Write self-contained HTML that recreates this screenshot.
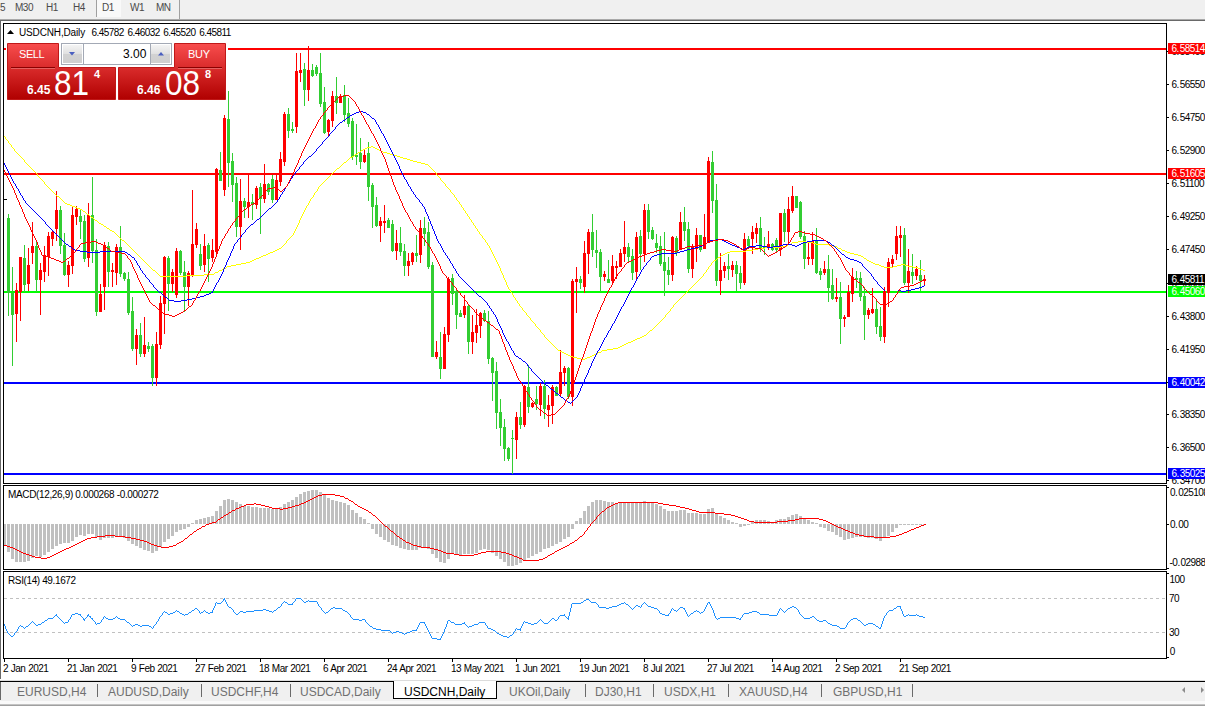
<!DOCTYPE html>
<html><head><meta charset="utf-8"><title>USDCNH,Daily</title>
<style>
html,body{margin:0;padding:0}
body{width:1205px;height:706px;overflow:hidden;background:#fff;position:relative;font-family:"Liberation Sans",sans-serif}
#tbar{position:absolute;left:0;top:0;width:1205px;height:19px;background:#f0f0f0}
#tbar span{position:absolute;top:0;font-size:10px;line-height:15px;color:#4a4a4a;white-space:nowrap;letter-spacing:-0.5px}
.tl1{position:absolute;left:0;top:19px;width:1205px;height:1px;background:#a9a9a9}
.tl2{position:absolute;left:0;top:20px;width:1205px;height:1px;background:#696969}
.lft{position:absolute;left:0;top:20px;width:1px;height:659px;background:#696969}
.vs{position:absolute;top:0;width:1px;background:#a0a0a0}
#d1{position:absolute;left:97px;top:0;width:24px;height:17px;background:#f9f9f9}
svg.ch{position:absolute;left:0;top:0}
.ax i,.bx i{font-style:normal;letter-spacing:0.4px}
.ax{position:absolute;font-size:10px;line-height:13px;height:13px;white-space:nowrap;letter-spacing:-0.55px}
.bx{position:absolute;left:1168px;width:37px;height:11px;font-size:10px;line-height:11px;white-space:nowrap;overflow:hidden;text-indent:3.5px;letter-spacing:-0.55px}
#tabs{position:absolute;left:0;top:680px;width:1205px;height:26px;background:#f0f0f0}
#tabs .l0{position:absolute;left:0;top:0;width:1205px;height:1px;background:#dcdcdc}
#tabs .lb{position:absolute;left:0;top:2px;width:1px;height:18px;background:#696969}
#tabs .l1{position:absolute;left:0;top:1px;width:1205px;height:1px;background:#000}
#tabs .w{position:absolute;left:0;top:21px;width:1205px;height:3px;background:#fafafa}
#tabs .g{position:absolute;left:0;top:24px;width:1205px;height:2px;background:linear-gradient(#c4c4c4 0,#c4c4c4 50%,#a0a0a0 50%,#a0a0a0 100%)}
.tb{position:absolute;top:4px;font-size:12px;line-height:16px;color:#707070;white-space:nowrap}
.sp{position:absolute;top:4px;width:1px;height:13px;background:#6a6a6a}
#act{position:absolute;left:393px;top:1px;width:102px;height:17px;background:#fff;border:1px solid #000;border-top:none;font-size:12px;line-height:23px;color:#000;text-indent:10px;white-space:nowrap}
.arr{position:absolute;top:6.5px;width:0;height:0;border-top:3.5px solid transparent;border-bottom:3.5px solid transparent}
#tp{position:absolute;left:0;top:0}
.t{position:absolute;color:#fff;white-space:nowrap}
</style></head><body>
<div id="tbar"><div id="d1"></div>
<span style="left:0px">5</span><span style="left:15px">M30</span><span style="left:46px">H1</span><span style="left:73px">H4</span><span style="left:102px">D1</span><span style="left:130px">W1</span><span style="left:156px">MN</span>
<div class="vs" style="left:96px;height:17px"></div><div class="vs" style="left:179px;height:19px"></div>
</div>
<div class="tl1"></div><div class="tl2"></div><div class="lft"></div>
<svg class="ch" width="1205" height="706" viewBox="0 0 1205 706" shape-rendering="crispEdges">
<rect x="4" y="48" width="1162" height="2" fill="#ff0000"/>
<rect x="4" y="173" width="1162" height="2" fill="#ff0000"/>
<rect x="4" y="291" width="1162" height="2" fill="#00ff00"/>
<rect x="4" y="382" width="1162" height="2" fill="#0000ff"/>
<rect x="4" y="473" width="1162" height="2" fill="#0000ff"/>
<path fill="#ff0000" d="M16 283h1v59h-1zM15 290h3v24h-3zM20 257h1v64h-1zM19 257h3v35h-3zM28 248h1v43h-1zM27 265h3v19h-3zM32 222h1v42h-1zM31 246h3v7h-3zM40 263h1v52h-1zM39 270h3v10h-3zM44 246h1v36h-1zM43 255h3v17h-3zM48 232h1v44h-1zM47 236h3v21h-3zM52 230h1v16h-1zM51 232h3v7h-3zM56 191h1v50h-1zM55 210h3v19h-3zM68 261h1v26h-1zM67 265h3v10h-3zM72 207h1v67h-1zM71 215h3v51h-3zM76 206h1v19h-1zM75 209h3v8h-3zM88 203h1v64h-1zM87 215h3v43h-3zM100 284h1v28h-1zM99 294h3v18h-3zM104 242h1v68h-1zM103 245h3v42h-3zM112 263h1v24h-1zM111 270h3v2h-3zM116 244h1v41h-1zM115 247h3v26h-3zM136 329h1v36h-1zM135 335h3v14h-3zM144 317h1v40h-1zM143 345h3v9h-3zM156 332h1v54h-1zM155 344h3v34h-3zM160 296h1v53h-1zM159 303h3v42h-3zM164 256h1v78h-1zM163 257h3v47h-3zM172 269h1v23h-1zM171 272h3v12h-3zM176 248h1v50h-1zM175 251h3v44h-3zM188 271h1v35h-1zM187 273h3v14h-3zM192 190h1v87h-1zM191 244h3v32h-3zM196 223h1v25h-1zM195 229h3v16h-3zM204 234h1v38h-1zM203 246h3v19h-3zM212 239h1v23h-1zM211 250h3v8h-3zM216 168h1v88h-1zM215 169h3v83h-3zM224 115h1v81h-1zM223 118h3v72h-3zM240 179h1v71h-1zM239 201h3v26h-3zM248 174h1v44h-1zM247 202h3v5h-3zM256 186h1v23h-1zM255 188h3v17h-3zM264 164h1v39h-1zM263 184h3v15h-3zM276 175h1v25h-1zM275 180h3v20h-3zM280 152h1v34h-1zM279 159h3v23h-3zM284 112h1v54h-1zM283 114h3v48h-3zM296 53h1v80h-1zM295 71h3v56h-3zM300 53h1v29h-1zM299 70h3v3h-3zM308 46h1v55h-1zM307 70h3v20h-3zM328 119h1v18h-1zM327 120h3v12h-3zM332 91h1v36h-1zM331 96h3v25h-3zM340 94h1v9h-1zM339 97h3v6h-3zM364 150h1v13h-1zM363 155h3v7h-3zM380 217h1v25h-1zM379 221h3v5h-3zM384 205h1v28h-1zM383 221h3v2h-3zM396 230h1v30h-1zM395 243h3v8h-3zM408 253h1v23h-1zM407 261h3v5h-3zM412 252h1v13h-1zM411 253h3v9h-3zM420 220h1v43h-1zM419 228h3v27h-3zM436 341h1v18h-1zM435 352h3v5h-3zM444 327h1v42h-1zM443 334h3v35h-3zM448 277h1v65h-1zM447 279h3v56h-3zM464 295h1v23h-1zM463 306h3v9h-3zM472 315h1v39h-1zM471 332h3v10h-3zM476 309h1v34h-1zM475 325h3v8h-3zM480 312h1v26h-1zM479 313h3v13h-3zM516 412h1v47h-1zM515 417h3v23h-3zM524 385h1v42h-1zM523 386h3v39h-3zM532 402h1v6h-1zM531 403h3v4h-3zM540 383h1v33h-1zM539 386h3v19h-3zM548 395h1v32h-1zM547 405h3v5h-3zM552 385h1v39h-1zM551 387h3v19h-3zM560 350h1v46h-1zM559 372h3v22h-3zM564 366h1v20h-1zM563 368h3v5h-3zM572 279h1v127h-1zM571 281h3v116h-3zM576 267h1v46h-1zM575 279h3v3h-3zM584 241h1v52h-1zM583 253h3v34h-3zM588 229h1v45h-1zM587 232h3v22h-3zM604 271h1v10h-1zM603 274h3v3h-3zM612 255h1v30h-1zM611 266h3v15h-3zM616 261h1v18h-1zM615 266h3v2h-3zM620 249h1v18h-1zM619 253h3v14h-3zM624 221h1v41h-1zM623 247h3v7h-3zM636 232h1v49h-1zM635 237h3v35h-3zM644 204h1v58h-1zM643 210h3v44h-3zM672 236h1v45h-1zM671 237h3v38h-3zM680 212h1v38h-1zM679 222h3v27h-3zM692 244h1v34h-1zM691 247h3v22h-3zM696 228h1v34h-1zM695 235h3v14h-3zM704 214h1v35h-1zM703 237h3v12h-3zM708 157h1v86h-1zM707 161h3v82h-3zM720 253h1v42h-1zM719 270h3v11h-3zM724 262h1v16h-1zM723 266h3v5h-3zM732 261h1v16h-1zM731 265h3v5h-3zM744 233h1v52h-1zM743 239h3v44h-3zM752 226h1v28h-1zM751 232h3v7h-3zM756 223h1v20h-1zM755 228h3v6h-3zM768 231h1v19h-1zM767 244h3v4h-3zM780 213h1v43h-1zM779 213h3v37h-3zM788 197h1v48h-1zM787 209h3v23h-3zM792 186h1v27h-1zM791 196h3v15h-3zM808 241h1v24h-1zM807 257h3v2h-3zM812 232h1v33h-1zM811 241h3v18h-3zM824 261h1v14h-1zM823 269h3v4h-3zM836 278h1v24h-1zM835 297h3v2h-3zM844 315h1v12h-1zM843 317h3v2h-3zM848 285h1v32h-1zM847 292h3v25h-3zM852 268h1v34h-1zM851 277h3v17h-3zM868 308h1v11h-1zM867 310h3v5h-3zM872 288h1v26h-1zM871 309h3v4h-3zM884 287h1v56h-1zM883 291h3v46h-3zM888 258h1v49h-1zM887 262h3v31h-3zM892 255h1v12h-1zM891 259h3v5h-3zM896 226h1v34h-1zM895 236h3v18h-3zM900 226h1v31h-1zM899 235h3v3h-3zM908 249h1v44h-1zM907 271h3v12h-3zM916 266h1v14h-1zM915 269h3v7h-3zM924 275h1v11h-1zM923 279h3v2h-3z"/>
<path fill="#32cd32" d="M8 214h1v102h-1zM7 218h3v75h-3zM12 267h1v99h-1zM11 293h3v22h-3zM24 245h1v47h-1zM23 258h3v27h-3zM36 241h1v51h-1zM35 246h3v34h-3zM60 206h1v48h-1zM59 210h3v36h-3zM64 233h1v43h-1zM63 245h3v30h-3zM80 210h1v29h-1zM79 216h3v6h-3zM84 215h1v47h-1zM83 221h3v38h-3zM92 177h1v86h-1zM91 215h3v36h-3zM96 239h1v77h-1zM95 250h3v62h-3zM108 242h1v45h-1zM107 246h3v26h-3zM120 226h1v51h-1zM119 247h3v27h-3zM124 272h1v9h-1zM123 273h3v6h-3zM128 272h1v43h-1zM127 279h3v34h-3zM132 297h1v54h-1zM131 311h3v38h-3zM140 323h1v34h-1zM139 335h3v19h-3zM148 342h1v10h-1zM147 346h3v3h-3zM152 344h1v42h-1zM151 346h3v32h-3zM168 256h1v55h-1zM167 258h3v26h-3zM180 250h1v25h-1zM179 251h3v22h-3zM184 261h1v51h-1zM183 272h3v15h-3zM200 244h1v26h-1zM199 254h3v12h-3zM208 243h1v39h-1zM207 245h3v14h-3zM220 152h1v29h-1zM219 170h3v11h-3zM228 91h1v96h-1zM227 119h3v44h-3zM232 153h1v49h-1zM231 161h3v24h-3zM236 177h1v60h-1zM235 183h3v44h-3zM244 198h1v20h-1zM243 201h3v6h-3zM252 194h1v26h-1zM251 202h3v3h-3zM260 183h1v51h-1zM259 187h3v12h-3zM268 183h1v12h-1zM267 184h3v8h-3zM272 175h1v28h-1zM271 179h3v21h-3zM288 108h1v30h-1zM287 114h3v17h-3zM292 122h1v11h-1zM291 129h3v2h-3zM304 63h1v43h-1zM303 69h3v21h-3zM312 64h1v13h-1zM311 70h3v6h-3zM316 65h1v11h-1zM315 67h3v7h-3zM320 53h1v54h-1zM319 73h3v31h-3zM324 87h1v47h-1zM323 102h3v31h-3zM336 77h1v37h-1zM335 96h3v7h-3zM344 85h1v37h-1zM343 95h3v20h-3zM348 98h1v29h-1zM347 113h3v11h-3zM352 118h1v42h-1zM351 121h3v36h-3zM356 124h1v41h-1zM355 155h3v2h-3zM360 138h1v31h-1zM359 153h3v9h-3zM368 142h1v59h-1zM367 153h3v34h-3zM372 183h1v45h-1zM371 185h3v22h-3zM376 197h1v30h-1zM375 205h3v21h-3zM388 218h1v10h-1zM387 220h3v8h-3zM392 220h1v32h-1zM391 224h3v27h-3zM400 227h1v29h-1zM399 243h3v9h-3zM404 244h1v32h-1zM403 251h3v15h-3zM416 235h1v27h-1zM415 253h3v3h-3zM424 217h1v29h-1zM423 228h3v6h-3zM428 222h1v47h-1zM427 232h3v35h-3zM432 262h1v95h-1zM431 265h3v92h-3zM440 332h1v47h-1zM439 357h3v12h-3zM452 274h1v31h-1zM451 278h3v16h-3zM456 289h1v40h-1zM455 291h3v24h-3zM460 310h1v7h-1zM459 313h3v4h-3zM468 305h1v49h-1zM467 306h3v36h-3zM484 310h1v12h-1zM483 313h3v8h-3zM488 311h1v53h-1zM487 321h3v38h-3zM492 357h1v44h-1zM491 358h3v15h-3zM496 362h1v67h-1zM495 371h3v42h-3zM500 399h1v47h-1zM499 412h3v16h-3zM504 419h1v42h-1zM503 427h3v22h-3zM508 447h1v14h-1zM507 448h3v11h-3zM512 430h1v44h-1zM511 438h3v1h-3zM520 402h1v27h-1zM519 417h3v8h-3zM528 365h1v48h-1zM527 387h3v20h-3zM536 386h1v24h-1zM535 399h3v5h-3zM544 380h1v39h-1zM543 386h3v23h-3zM556 386h1v10h-1zM555 387h3v9h-3zM568 367h1v32h-1zM567 368h3v29h-3zM580 276h1v13h-1zM579 279h3v4h-3zM592 214h1v43h-1zM591 232h3v18h-3zM596 230h1v38h-1zM595 250h3v3h-3zM600 249h1v43h-1zM599 252h3v25h-3zM608 260h1v23h-1zM607 279h3v4h-3zM628 243h1v19h-1zM627 247h3v10h-3zM632 249h1v31h-1zM631 256h3v17h-3zM640 230h1v40h-1zM639 236h3v18h-3zM648 204h1v35h-1zM647 210h3v22h-3zM652 227h1v13h-1zM651 230h3v9h-3zM656 234h1v19h-1zM655 243h3v5h-3zM660 236h1v30h-1zM659 246h3v18h-3zM664 232h1v64h-1zM663 262h3v9h-3zM668 257h1v28h-1zM667 270h3v5h-3zM676 236h1v20h-1zM675 238h3v15h-3zM684 207h1v34h-1zM683 222h3v9h-3zM688 222h1v51h-1zM687 229h3v40h-3zM700 235h1v17h-1zM699 235h3v15h-3zM712 151h1v62h-1zM711 162h3v39h-3zM716 184h1v102h-1zM715 200h3v81h-3zM728 254h1v26h-1zM727 266h3v3h-3zM736 261h1v30h-1zM735 265h3v9h-3zM740 266h1v23h-1zM739 273h3v10h-3zM748 236h1v13h-1zM747 239h3v7h-3zM760 217h1v35h-1zM759 228h3v20h-3zM764 237h1v18h-1zM763 246h3v2h-3zM772 243h1v8h-1zM771 244h3v6h-3zM776 238h1v15h-1zM775 240h3v10h-3zM784 209h1v33h-1zM783 213h3v19h-3zM796 196h1v12h-1zM795 196h3v12h-3zM800 201h1v38h-1zM799 202h3v35h-3zM804 231h1v38h-1zM803 236h3v23h-3zM816 228h1v46h-1zM815 241h3v32h-3zM820 268h1v12h-1zM819 271h3v4h-3zM828 255h1v47h-1zM827 269h3v19h-3zM832 269h1v31h-1zM831 285h3v14h-3zM840 282h1v62h-1zM839 297h3v22h-3zM856 271h1v17h-1zM855 278h3v2h-3zM860 272h1v29h-1zM859 278h3v19h-3zM864 287h1v53h-1zM863 296h3v19h-3zM876 301h1v33h-1zM875 309h3v18h-3zM880 307h1v34h-1zM879 326h3v11h-3zM904 228h1v57h-1zM903 235h3v48h-3zM912 254h1v30h-1zM911 272h3v4h-3zM920 260h1v31h-1zM919 275h3v6h-3z"/>
<path fill="#ffff00" d="M4 136h1v1h-1zM5 137h1v2h-1zM6 139h1v1h-1zM7 140h1v1h-1zM8 141h1v2h-1zM9 143h1v1h-1zM10 144h1v1h-1zM11 145h1v2h-1zM12 147h1v1h-1zM13 148h1v1h-1zM14 149h1v2h-1zM15 151h1v1h-1zM16 152h1v1h-1zM17 153h1v1h-1zM18 154h1v1h-1zM19 155h1v1h-1zM20 156h1v1h-1zM21 157h1v1h-1zM22 158h1v1h-1zM23 159h1v1h-1zM24 160h1v2h-1zM25 162h1v1h-1zM26 163h1v1h-1zM27 164h1v1h-1zM28 165h1v1h-1zM29 166h1v1h-1zM30 167h1v1h-1zM31 168h1v1h-1zM32 169h1v1h-1zM33 170h1v1h-1zM34 171h1v1h-1zM35 172h1v1h-1zM36 173h1v1h-1zM37 174h1v2h-1zM38 176h1v1h-1zM39 177h1v1h-1zM40 178h1v1h-1zM41 179h1v1h-1zM42 180h1v1h-1zM43 181h1v1h-1zM44 182h1v2h-1zM45 184h1v1h-1zM46 185h1v1h-1zM47 186h1v1h-1zM48 187h1v1h-1zM49 188h1v1h-1zM50 189h1v1h-1zM51 190h1v1h-1zM52 191h1v1h-1zM53 192h1v1h-1zM54 193h1v1h-1zM55 194h1v1h-1zM56 195h1v1h-1zM57 196h1v1h-1zM58 196h1v1h-1zM59 197h1v1h-1zM60 198h1v1h-1zM61 199h1v1h-1zM62 200h1v1h-1zM63 201h1v1h-1zM64 202h1v1h-1zM65 203h1v1h-1zM66 203h1v1h-1zM67 204h1v1h-1zM68 204h1v1h-1zM69 204h1v1h-1zM70 205h1v1h-1zM71 205h1v1h-1zM72 206h1v1h-1zM73 206h1v1h-1zM74 206h1v1h-1zM75 207h1v1h-1zM76 207h1v1h-1zM77 208h1v1h-1zM78 208h1v1h-1zM79 208h1v1h-1zM80 209h1v1h-1zM81 209h1v1h-1zM82 210h1v1h-1zM83 211h1v1h-1zM84 211h1v1h-1zM85 212h1v1h-1zM86 213h1v1h-1zM87 214h1v1h-1zM88 214h1v1h-1zM89 215h1v1h-1zM90 216h1v1h-1zM91 217h1v1h-1zM92 217h1v1h-1zM93 218h1v1h-1zM94 219h1v1h-1zM95 220h1v1h-1zM96 220h1v1h-1zM97 221h1v1h-1zM98 222h1v1h-1zM99 223h1v1h-1zM100 223h1v1h-1zM101 224h1v1h-1zM102 224h1v1h-1zM103 225h1v1h-1zM104 226h1v1h-1zM105 226h1v1h-1zM106 227h1v1h-1zM107 228h1v1h-1zM108 228h1v1h-1zM109 229h1v1h-1zM110 230h1v1h-1zM111 230h1v1h-1zM112 231h1v1h-1zM113 231h1v1h-1zM114 232h1v1h-1zM115 233h1v1h-1zM116 234h1v1h-1zM117 235h1v1h-1zM118 236h1v1h-1zM119 237h1v1h-1zM120 238h1v1h-1zM121 239h1v1h-1zM122 240h1v1h-1zM123 240h1v1h-1zM124 241h1v1h-1zM125 242h1v1h-1zM126 243h1v1h-1zM127 244h1v1h-1zM128 245h1v1h-1zM129 246h1v1h-1zM130 247h1v1h-1zM131 248h1v1h-1zM132 249h1v1h-1zM133 250h1v1h-1zM134 251h1v1h-1zM135 252h1v1h-1zM136 253h1v1h-1zM137 254h1v1h-1zM138 255h1v1h-1zM139 256h1v1h-1zM140 257h1v1h-1zM141 258h1v1h-1zM142 259h1v1h-1zM143 260h1v1h-1zM144 261h1v1h-1zM145 262h1v1h-1zM146 263h1v1h-1zM147 264h1v1h-1zM148 265h1v1h-1zM149 266h1v1h-1zM150 267h1v1h-1zM151 268h1v1h-1zM152 269h1v1h-1zM153 270h1v1h-1zM154 270h1v1h-1zM155 271h1v1h-1zM156 272h1v1h-1zM157 273h1v1h-1zM158 274h1v1h-1zM159 275h1v1h-1zM160 276h1v1h-1zM161 276h1v1h-1zM162 276h1v1h-1zM163 276h1v1h-1zM164 276h1v1h-1zM165 276h1v1h-1zM166 276h1v1h-1zM167 276h1v1h-1zM168 276h1v1h-1zM169 276h1v1h-1zM170 276h1v1h-1zM171 276h1v1h-1zM172 276h1v1h-1zM173 276h1v1h-1zM174 276h1v1h-1zM175 276h1v1h-1zM176 276h1v1h-1zM177 276h1v1h-1zM178 276h1v1h-1zM179 276h1v1h-1zM180 276h1v1h-1zM181 276h1v1h-1zM182 276h1v1h-1zM183 276h1v1h-1zM184 276h1v1h-1zM185 276h1v1h-1zM186 275h1v1h-1zM187 275h1v1h-1zM188 275h1v1h-1zM189 275h1v1h-1zM190 275h1v1h-1zM191 275h1v1h-1zM192 275h1v1h-1zM193 275h1v1h-1zM194 275h1v1h-1zM195 275h1v1h-1zM196 275h1v1h-1zM197 275h1v1h-1zM198 275h1v1h-1zM199 275h1v1h-1zM200 275h1v1h-1zM201 275h1v1h-1zM202 275h1v1h-1zM203 275h1v1h-1zM204 274h1v1h-1zM205 274h1v1h-1zM206 274h1v1h-1zM207 274h1v1h-1zM208 274h1v1h-1zM209 274h1v1h-1zM210 274h1v1h-1zM211 274h1v1h-1zM212 274h1v1h-1zM213 274h1v1h-1zM214 273h1v1h-1zM215 272h1v1h-1zM216 272h1v1h-1zM217 272h1v1h-1zM218 271h1v1h-1zM219 270h1v1h-1zM220 270h1v1h-1zM221 270h1v1h-1zM222 269h1v1h-1zM223 268h1v1h-1zM224 268h1v1h-1zM225 268h1v1h-1zM226 267h1v1h-1zM227 266h1v1h-1zM228 266h1v1h-1zM229 266h1v1h-1zM230 266h1v1h-1zM231 265h1v1h-1zM232 265h1v1h-1zM233 265h1v1h-1zM234 265h1v1h-1zM235 265h1v1h-1zM236 264h1v1h-1zM237 264h1v1h-1zM238 264h1v1h-1zM239 264h1v1h-1zM240 264h1v1h-1zM241 263h1v1h-1zM242 263h1v1h-1zM243 263h1v1h-1zM244 263h1v1h-1zM245 263h1v1h-1zM246 262h1v1h-1zM247 262h1v1h-1zM248 262h1v1h-1zM249 262h1v1h-1zM250 261h1v1h-1zM251 261h1v1h-1zM252 260h1v1h-1zM253 260h1v1h-1zM254 259h1v1h-1zM255 259h1v1h-1zM256 258h1v1h-1zM257 258h1v1h-1zM258 258h1v1h-1zM259 257h1v1h-1zM260 257h1v1h-1zM261 256h1v1h-1zM262 256h1v1h-1zM263 255h1v1h-1zM264 255h1v1h-1zM265 255h1v1h-1zM266 254h1v1h-1zM267 254h1v1h-1zM268 253h1v1h-1zM269 253h1v1h-1zM270 252h1v1h-1zM271 252h1v1h-1zM272 252h1v1h-1zM273 251h1v1h-1zM274 251h1v1h-1zM275 250h1v1h-1zM276 250h1v1h-1zM277 249h1v1h-1zM278 249h1v1h-1zM279 248h1v1h-1zM280 248h1v1h-1zM281 247h1v1h-1zM282 246h1v1h-1zM283 245h1v1h-1zM284 244h1v1h-1zM285 243h1v1h-1zM286 241h1v2h-1zM287 240h1v1h-1zM288 239h1v1h-1zM289 238h1v1h-1zM290 237h1v1h-1zM291 236h1v1h-1zM292 235h1v1h-1zM293 233h1v2h-1zM294 231h1v2h-1zM295 229h1v2h-1zM296 227h1v2h-1zM297 225h1v2h-1zM298 223h1v2h-1zM299 220h1v3h-1zM300 218h1v2h-1zM301 216h1v2h-1zM302 214h1v2h-1zM303 212h1v2h-1zM304 210h1v2h-1zM305 208h1v2h-1zM306 206h1v2h-1zM307 205h1v1h-1zM308 203h1v2h-1zM309 201h1v2h-1zM310 199h1v2h-1zM311 198h1v1h-1zM312 197h1v1h-1zM313 195h1v2h-1zM314 193h1v2h-1zM315 192h1v1h-1zM316 191h1v1h-1zM317 189h1v2h-1zM318 187h1v2h-1zM319 186h1v1h-1zM320 185h1v1h-1zM321 184h1v1h-1zM322 183h1v1h-1zM323 182h1v1h-1zM324 181h1v1h-1zM325 180h1v1h-1zM326 179h1v1h-1zM327 178h1v1h-1zM328 177h1v1h-1zM329 176h1v1h-1zM330 175h1v1h-1zM331 174h1v1h-1zM332 173h1v1h-1zM333 172h1v1h-1zM334 171h1v1h-1zM335 170h1v1h-1zM336 169h1v1h-1zM337 168h1v1h-1zM338 168h1v1h-1zM339 167h1v1h-1zM340 166h1v1h-1zM341 165h1v1h-1zM342 164h1v1h-1zM343 163h1v1h-1zM344 162h1v1h-1zM345 162h1v1h-1zM346 161h1v1h-1zM347 160h1v1h-1zM348 159h1v1h-1zM349 158h1v1h-1zM350 157h1v1h-1zM351 157h1v1h-1zM352 156h1v1h-1zM353 156h1v1h-1zM354 155h1v1h-1zM355 154h1v1h-1zM356 154h1v1h-1zM357 153h1v1h-1zM358 152h1v1h-1zM359 152h1v1h-1zM360 151h1v1h-1zM361 150h1v1h-1zM362 150h1v1h-1zM363 149h1v1h-1zM364 149h1v1h-1zM365 148h1v1h-1zM366 148h1v1h-1zM367 147h1v1h-1zM368 147h1v1h-1zM369 147h1v1h-1zM370 147h1v1h-1zM371 146h1v1h-1zM372 146h1v1h-1zM373 147h1v1h-1zM374 147h1v1h-1zM375 148h1v1h-1zM376 148h1v1h-1zM377 149h1v1h-1zM378 149h1v1h-1zM379 150h1v1h-1zM380 150h1v1h-1zM381 151h1v1h-1zM382 151h1v1h-1zM383 152h1v1h-1zM384 152h1v1h-1zM385 152h1v1h-1zM386 152h1v1h-1zM387 153h1v1h-1zM388 153h1v1h-1zM389 153h1v1h-1zM390 154h1v1h-1zM391 154h1v1h-1zM392 154h1v1h-1zM393 155h1v1h-1zM394 155h1v1h-1zM395 155h1v1h-1zM396 155h1v1h-1zM397 156h1v1h-1zM398 156h1v1h-1zM399 156h1v1h-1zM400 157h1v1h-1zM401 157h1v1h-1zM402 157h1v1h-1zM403 158h1v1h-1zM404 158h1v1h-1zM405 158h1v1h-1zM406 158h1v1h-1zM407 159h1v1h-1zM408 159h1v1h-1zM409 159h1v1h-1zM410 160h1v1h-1zM411 160h1v1h-1zM412 160h1v1h-1zM413 161h1v1h-1zM414 161h1v1h-1zM415 161h1v1h-1zM416 161h1v1h-1zM417 162h1v1h-1zM418 162h1v1h-1zM419 162h1v1h-1zM420 162h1v1h-1zM421 163h1v1h-1zM422 163h1v1h-1zM423 163h1v1h-1zM424 163h1v1h-1zM425 164h1v1h-1zM426 164h1v1h-1zM427 164h1v1h-1zM428 165h1v1h-1zM429 166h1v1h-1zM430 167h1v1h-1zM431 168h1v1h-1zM432 169h1v1h-1zM433 170h1v1h-1zM434 171h1v1h-1zM435 172h1v1h-1zM436 173h1v2h-1zM437 175h1v1h-1zM438 176h1v1h-1zM439 177h1v1h-1zM440 178h1v2h-1zM441 180h1v1h-1zM442 181h1v1h-1zM443 182h1v1h-1zM444 183h1v1h-1zM445 184h1v2h-1zM446 186h1v1h-1zM447 187h1v1h-1zM448 188h1v1h-1zM449 189h1v1h-1zM450 190h1v2h-1zM451 192h1v1h-1zM452 193h1v1h-1zM453 194h1v1h-1zM454 195h1v2h-1zM455 197h1v1h-1zM456 198h1v2h-1zM457 200h1v1h-1zM458 201h1v1h-1zM459 202h1v2h-1zM460 204h1v1h-1zM461 205h1v2h-1zM462 207h1v1h-1zM463 208h1v2h-1zM464 210h1v1h-1zM465 211h1v2h-1zM466 213h1v1h-1zM467 214h1v2h-1zM468 216h1v1h-1zM469 217h1v2h-1zM470 219h1v1h-1zM471 220h1v2h-1zM472 222h1v1h-1zM473 223h1v2h-1zM474 225h1v1h-1zM475 226h1v2h-1zM476 228h1v1h-1zM477 229h1v2h-1zM478 231h1v1h-1zM479 232h1v2h-1zM480 234h1v1h-1zM481 235h1v1h-1zM482 236h1v2h-1zM483 238h1v1h-1zM484 239h1v1h-1zM485 240h1v2h-1zM486 242h1v1h-1zM487 243h1v2h-1zM488 245h1v1h-1zM489 246h1v2h-1zM490 248h1v2h-1zM491 250h1v2h-1zM492 252h1v2h-1zM493 254h1v2h-1zM494 256h1v2h-1zM495 258h1v2h-1zM496 260h1v2h-1zM497 262h1v2h-1zM498 264h1v2h-1zM499 266h1v2h-1zM500 268h1v3h-1zM501 271h1v2h-1zM502 273h1v2h-1zM503 275h1v3h-1zM504 278h1v2h-1zM505 280h1v2h-1zM506 282h1v3h-1zM507 285h1v2h-1zM508 287h1v2h-1zM509 289h1v1h-1zM510 290h1v2h-1zM511 292h1v1h-1zM512 293h1v2h-1zM513 295h1v2h-1zM514 297h1v1h-1zM515 298h1v2h-1zM516 300h1v1h-1zM517 301h1v2h-1zM518 303h1v1h-1zM519 304h1v2h-1zM520 306h1v1h-1zM521 307h1v1h-1zM522 308h1v2h-1zM523 310h1v1h-1zM524 311h1v1h-1zM525 312h1v1h-1zM526 313h1v2h-1zM527 315h1v1h-1zM528 316h1v1h-1zM529 317h1v1h-1zM530 318h1v2h-1zM531 320h1v1h-1zM532 321h1v1h-1zM533 322h1v1h-1zM534 323h1v1h-1zM535 324h1v2h-1zM536 326h1v1h-1zM537 327h1v1h-1zM538 328h1v1h-1zM539 329h1v1h-1zM540 330h1v2h-1zM541 332h1v1h-1zM542 333h1v1h-1zM543 334h1v1h-1zM544 335h1v2h-1zM545 337h1v1h-1zM546 338h1v1h-1zM547 339h1v1h-1zM548 340h1v1h-1zM549 341h1v1h-1zM550 342h1v1h-1zM551 343h1v1h-1zM552 344h1v1h-1zM553 345h1v1h-1zM554 346h1v1h-1zM555 347h1v1h-1zM556 348h1v1h-1zM557 349h1v1h-1zM558 350h1v1h-1zM559 350h1v1h-1zM560 351h1v1h-1zM561 351h1v1h-1zM562 352h1v1h-1zM563 352h1v1h-1zM564 353h1v1h-1zM565 353h1v1h-1zM566 354h1v1h-1zM567 354h1v1h-1zM568 355h1v1h-1zM569 355h1v1h-1zM570 356h1v1h-1zM571 356h1v1h-1zM572 356h1v1h-1zM573 357h1v1h-1zM574 357h1v1h-1zM575 357h1v1h-1zM576 357h1v1h-1zM577 358h1v1h-1zM578 358h1v1h-1zM579 358h1v1h-1zM580 358h1v1h-1zM581 359h1v1h-1zM582 359h1v1h-1zM583 359h1v1h-1zM584 359h1v1h-1zM585 358h1v1h-1zM586 358h1v1h-1zM587 357h1v1h-1zM588 357h1v1h-1zM589 357h1v1h-1zM590 356h1v1h-1zM591 356h1v1h-1zM592 355h1v1h-1zM593 355h1v1h-1zM594 354h1v1h-1zM595 354h1v1h-1zM596 354h1v1h-1zM597 353h1v1h-1zM598 352h1v1h-1zM599 352h1v1h-1zM600 352h1v1h-1zM601 351h1v1h-1zM602 350h1v1h-1zM603 350h1v1h-1zM604 350h1v1h-1zM605 350h1v1h-1zM606 350h1v1h-1zM607 349h1v1h-1zM608 349h1v1h-1zM609 349h1v1h-1zM610 349h1v1h-1zM611 349h1v1h-1zM612 349h1v1h-1zM613 348h1v1h-1zM614 348h1v1h-1zM615 348h1v1h-1zM616 348h1v1h-1zM617 348h1v1h-1zM618 347h1v1h-1zM619 347h1v1h-1zM620 346h1v1h-1zM621 346h1v1h-1zM622 345h1v1h-1zM623 345h1v1h-1zM624 344h1v1h-1zM625 344h1v1h-1zM626 343h1v1h-1zM627 343h1v1h-1zM628 342h1v1h-1zM629 342h1v1h-1zM630 342h1v1h-1zM631 341h1v1h-1zM632 341h1v1h-1zM633 340h1v1h-1zM634 340h1v1h-1zM635 339h1v1h-1zM636 339h1v1h-1zM637 338h1v1h-1zM638 338h1v1h-1zM639 338h1v1h-1zM640 337h1v1h-1zM641 337h1v1h-1zM642 336h1v1h-1zM643 336h1v1h-1zM644 335h1v1h-1zM645 335h1v1h-1zM646 334h1v1h-1zM647 333h1v1h-1zM648 332h1v1h-1zM649 331h1v1h-1zM650 330h1v1h-1zM651 330h1v1h-1zM652 329h1v1h-1zM653 328h1v1h-1zM654 327h1v1h-1zM655 326h1v1h-1zM656 325h1v1h-1zM657 324h1v1h-1zM658 323h1v1h-1zM659 322h1v1h-1zM660 321h1v1h-1zM661 320h1v1h-1zM662 319h1v1h-1zM663 318h1v1h-1zM664 317h1v1h-1zM665 315h1v2h-1zM666 314h1v1h-1zM667 313h1v1h-1zM668 312h1v1h-1zM669 311h1v1h-1zM670 309h1v2h-1zM671 308h1v1h-1zM672 307h1v1h-1zM673 305h1v2h-1zM674 304h1v1h-1zM675 303h1v1h-1zM676 302h1v1h-1zM677 301h1v1h-1zM678 300h1v1h-1zM679 299h1v1h-1zM680 298h1v1h-1zM681 297h1v1h-1zM682 296h1v1h-1zM683 295h1v1h-1zM684 294h1v1h-1zM685 293h1v1h-1zM686 292h1v1h-1zM687 291h1v1h-1zM688 290h1v1h-1zM689 289h1v1h-1zM690 288h1v1h-1zM691 287h1v1h-1zM692 286h1v1h-1zM693 285h1v1h-1zM694 284h1v1h-1zM695 283h1v1h-1zM696 282h1v1h-1zM697 281h1v1h-1zM698 280h1v1h-1zM699 279h1v1h-1zM700 278h1v1h-1zM701 277h1v1h-1zM702 276h1v1h-1zM703 274h1v2h-1zM704 273h1v1h-1zM705 272h1v1h-1zM706 270h1v2h-1zM707 269h1v1h-1zM708 267h1v2h-1zM709 266h1v1h-1zM710 265h1v1h-1zM711 263h1v2h-1zM712 262h1v1h-1zM713 261h1v1h-1zM714 260h1v1h-1zM715 260h1v1h-1zM716 259h1v1h-1zM717 258h1v1h-1zM718 257h1v1h-1zM719 257h1v1h-1zM720 256h1v1h-1zM721 255h1v1h-1zM722 255h1v1h-1zM723 254h1v1h-1zM724 254h1v1h-1zM725 253h1v1h-1zM726 253h1v1h-1zM727 252h1v1h-1zM728 252h1v1h-1zM729 252h1v1h-1zM730 251h1v1h-1zM731 251h1v1h-1zM732 251h1v1h-1zM733 251h1v1h-1zM734 251h1v1h-1zM735 251h1v1h-1zM736 251h1v1h-1zM737 251h1v1h-1zM738 251h1v1h-1zM739 251h1v1h-1zM740 251h1v1h-1zM741 251h1v1h-1zM742 251h1v1h-1zM743 251h1v1h-1zM744 251h1v1h-1zM745 251h1v1h-1zM746 250h1v1h-1zM747 250h1v1h-1zM748 250h1v1h-1zM749 250h1v1h-1zM750 250h1v1h-1zM751 250h1v1h-1zM752 250h1v1h-1zM753 249h1v1h-1zM754 249h1v1h-1zM755 249h1v1h-1zM756 249h1v1h-1zM757 249h1v1h-1zM758 248h1v1h-1zM759 248h1v1h-1zM760 248h1v1h-1zM761 248h1v1h-1zM762 248h1v1h-1zM763 248h1v1h-1zM764 248h1v1h-1zM765 247h1v1h-1zM766 247h1v1h-1zM767 247h1v1h-1zM768 247h1v1h-1zM769 247h1v1h-1zM770 247h1v1h-1zM771 247h1v1h-1zM772 247h1v1h-1zM773 247h1v1h-1zM774 247h1v1h-1zM775 247h1v1h-1zM776 247h1v1h-1zM777 247h1v1h-1zM778 247h1v1h-1zM779 247h1v1h-1zM780 247h1v1h-1zM781 246h1v1h-1zM782 246h1v1h-1zM783 246h1v1h-1zM784 246h1v1h-1zM785 246h1v1h-1zM786 246h1v1h-1zM787 245h1v1h-1zM788 244h1v1h-1zM789 244h1v1h-1zM790 244h1v1h-1zM791 243h1v1h-1zM792 242h1v1h-1zM793 242h1v1h-1zM794 242h1v1h-1zM795 242h1v1h-1zM796 242h1v1h-1zM797 242h1v1h-1zM798 241h1v1h-1zM799 241h1v1h-1zM800 241h1v1h-1zM801 241h1v1h-1zM802 241h1v1h-1zM803 241h1v1h-1zM804 241h1v1h-1zM805 241h1v1h-1zM806 242h1v1h-1zM807 242h1v1h-1zM808 242h1v1h-1zM809 242h1v1h-1zM810 242h1v1h-1zM811 242h1v1h-1zM812 242h1v1h-1zM813 243h1v1h-1zM814 243h1v1h-1zM815 243h1v1h-1zM816 244h1v1h-1zM817 244h1v1h-1zM818 244h1v1h-1zM819 244h1v1h-1zM820 244h1v1h-1zM821 244h1v1h-1zM822 244h1v1h-1zM823 244h1v1h-1zM824 244h1v1h-1zM825 244h1v1h-1zM826 244h1v1h-1zM827 244h1v1h-1zM828 244h1v1h-1zM829 245h1v1h-1zM830 245h1v1h-1zM831 245h1v1h-1zM832 245h1v1h-1zM833 246h1v1h-1zM834 246h1v1h-1zM835 246h1v1h-1zM836 246h1v1h-1zM837 247h1v1h-1zM838 248h1v1h-1zM839 248h1v1h-1zM840 248h1v1h-1zM841 249h1v1h-1zM842 250h1v1h-1zM843 250h1v1h-1zM844 250h1v1h-1zM845 251h1v1h-1zM846 251h1v1h-1zM847 252h1v1h-1zM848 252h1v1h-1zM849 252h1v1h-1zM850 253h1v1h-1zM851 253h1v1h-1zM852 253h1v1h-1zM853 253h1v1h-1zM854 254h1v1h-1zM855 254h1v1h-1zM856 254h1v1h-1zM857 254h1v1h-1zM858 255h1v1h-1zM859 255h1v1h-1zM860 255h1v1h-1zM861 256h1v1h-1zM862 256h1v1h-1zM863 257h1v1h-1zM864 258h1v1h-1zM865 258h1v1h-1zM866 259h1v1h-1zM867 260h1v1h-1zM868 260h1v1h-1zM869 261h1v1h-1zM870 261h1v1h-1zM871 262h1v1h-1zM872 262h1v1h-1zM873 263h1v1h-1zM874 263h1v1h-1zM875 264h1v1h-1zM876 264h1v1h-1zM877 264h1v1h-1zM878 264h1v1h-1zM879 265h1v1h-1zM880 265h1v1h-1zM881 266h1v1h-1zM882 266h1v1h-1zM883 266h1v1h-1zM884 267h1v1h-1zM885 267h1v1h-1zM886 267h1v1h-1zM887 267h1v1h-1zM888 267h1v1h-1zM889 267h1v1h-1zM890 267h1v1h-1zM891 267h1v1h-1zM892 267h1v1h-1zM893 266h1v1h-1zM894 266h1v1h-1zM895 266h1v1h-1zM896 266h1v1h-1zM897 265h1v1h-1zM898 265h1v1h-1zM899 265h1v1h-1zM900 265h1v1h-1zM901 264h1v1h-1zM902 264h1v1h-1zM903 264h1v1h-1zM904 264h1v1h-1zM905 265h1v1h-1zM906 265h1v1h-1zM907 265h1v1h-1zM908 266h1v1h-1zM909 266h1v1h-1zM910 266h1v1h-1zM911 266h1v1h-1zM912 266h1v1h-1zM913 267h1v1h-1zM914 267h1v1h-1zM915 267h1v1h-1zM916 267h1v1h-1zM917 267h1v1h-1zM918 268h1v1h-1zM919 268h1v1h-1zM920 269h1v1h-1zM921 269h1v1h-1zM922 269h1v1h-1zM923 270h1v1h-1zM924 270h1v1h-1z"/>
<path fill="#0000ff" d="M4 163h1v2h-1zM5 165h1v2h-1zM6 167h1v2h-1zM7 169h1v2h-1zM8 171h1v2h-1zM9 173h1v2h-1zM10 175h1v2h-1zM11 177h1v2h-1zM12 179h1v2h-1zM13 181h1v2h-1zM14 183h1v1h-1zM15 184h1v2h-1zM16 186h1v2h-1zM17 188h1v1h-1zM18 189h1v2h-1zM19 191h1v2h-1zM20 193h1v2h-1zM21 195h1v1h-1zM22 196h1v2h-1zM23 198h1v2h-1zM24 200h1v1h-1zM25 201h1v2h-1zM26 203h1v1h-1zM27 204h1v1h-1zM28 205h1v1h-1zM29 206h1v1h-1zM30 207h1v1h-1zM31 208h1v1h-1zM32 209h1v1h-1zM33 210h1v1h-1zM34 211h1v1h-1zM35 212h1v1h-1zM36 213h1v1h-1zM37 214h1v1h-1zM38 215h1v1h-1zM39 216h1v1h-1zM40 217h1v1h-1zM41 218h1v1h-1zM42 219h1v1h-1zM43 220h1v1h-1zM44 221h1v1h-1zM45 222h1v2h-1zM46 224h1v1h-1zM47 225h1v1h-1zM48 226h1v1h-1zM49 227h1v1h-1zM50 228h1v1h-1zM51 229h1v1h-1zM52 230h1v1h-1zM53 231h1v1h-1zM54 232h1v1h-1zM55 233h1v1h-1zM56 234h1v1h-1zM57 235h1v1h-1zM58 236h1v1h-1zM59 237h1v1h-1zM60 238h1v1h-1zM61 239h1v1h-1zM62 240h1v1h-1zM63 241h1v1h-1zM64 242h1v1h-1zM65 243h1v1h-1zM66 244h1v1h-1zM67 244h1v1h-1zM68 245h1v1h-1zM69 246h1v1h-1zM70 246h1v1h-1zM71 247h1v1h-1zM72 248h1v1h-1zM73 249h1v1h-1zM74 249h1v1h-1zM75 250h1v1h-1zM76 250h1v1h-1zM77 250h1v1h-1zM78 250h1v1h-1zM79 250h1v1h-1zM80 251h1v1h-1zM81 251h1v1h-1zM82 251h1v1h-1zM83 251h1v1h-1zM84 251h1v1h-1zM85 251h1v1h-1zM86 251h1v1h-1zM87 252h1v1h-1zM88 252h1v1h-1zM89 252h1v1h-1zM90 252h1v1h-1zM91 252h1v1h-1zM92 252h1v1h-1zM93 252h1v1h-1zM94 252h1v1h-1zM95 252h1v1h-1zM96 252h1v1h-1zM97 252h1v1h-1zM98 252h1v1h-1zM99 252h1v1h-1zM100 251h1v1h-1zM101 251h1v1h-1zM102 251h1v1h-1zM103 251h1v1h-1zM104 251h1v1h-1zM105 251h1v1h-1zM106 251h1v1h-1zM107 251h1v1h-1zM108 251h1v1h-1zM109 251h1v1h-1zM110 251h1v1h-1zM111 251h1v1h-1zM112 251h1v1h-1zM113 251h1v1h-1zM114 251h1v1h-1zM115 251h1v1h-1zM116 251h1v1h-1zM117 251h1v1h-1zM118 251h1v1h-1zM119 251h1v1h-1zM120 251h1v1h-1zM121 251h1v1h-1zM122 251h1v1h-1zM123 251h1v1h-1zM124 251h1v1h-1zM125 252h1v1h-1zM126 252h1v1h-1zM127 253h1v1h-1zM128 254h1v1h-1zM129 254h1v1h-1zM130 255h1v1h-1zM131 256h1v1h-1zM132 257h1v1h-1zM133 257h1v1h-1zM134 258h1v2h-1zM135 260h1v1h-1zM136 261h1v2h-1zM137 263h1v2h-1zM138 265h1v1h-1zM139 266h1v2h-1zM140 268h1v2h-1zM141 270h1v1h-1zM142 271h1v2h-1zM143 273h1v1h-1zM144 274h1v1h-1zM145 275h1v2h-1zM146 277h1v1h-1zM147 278h1v1h-1zM148 279h1v1h-1zM149 280h1v2h-1zM150 282h1v1h-1zM151 283h1v1h-1zM152 284h1v1h-1zM153 285h1v2h-1zM154 287h1v1h-1zM155 288h1v1h-1zM156 289h1v1h-1zM157 290h1v1h-1zM158 291h1v1h-1zM159 292h1v1h-1zM160 292h1v1h-1zM161 293h1v1h-1zM162 294h1v1h-1zM163 295h1v1h-1zM164 296h1v1h-1zM165 297h1v1h-1zM166 297h1v1h-1zM167 298h1v1h-1zM168 299h1v1h-1zM169 300h1v1h-1zM170 300h1v1h-1zM171 300h1v1h-1zM172 300h1v1h-1zM173 300h1v1h-1zM174 301h1v1h-1zM175 301h1v1h-1zM176 301h1v1h-1zM177 301h1v1h-1zM178 301h1v1h-1zM179 301h1v1h-1zM180 301h1v1h-1zM181 300h1v1h-1zM182 300h1v1h-1zM183 300h1v1h-1zM184 300h1v1h-1zM185 300h1v1h-1zM186 300h1v1h-1zM187 299h1v1h-1zM188 299h1v1h-1zM189 299h1v1h-1zM190 299h1v1h-1zM191 299h1v1h-1zM192 298h1v1h-1zM193 298h1v1h-1zM194 298h1v1h-1zM195 298h1v1h-1zM196 297h1v1h-1zM197 297h1v1h-1zM198 297h1v1h-1zM199 297h1v1h-1zM200 296h1v1h-1zM201 296h1v1h-1zM202 296h1v1h-1zM203 296h1v1h-1zM204 295h1v1h-1zM205 295h1v1h-1zM206 294h1v1h-1zM207 294h1v1h-1zM208 294h1v1h-1zM209 293h1v1h-1zM210 293h1v1h-1zM211 292h1v1h-1zM212 291h1v2h-1zM213 289h1v2h-1zM214 287h1v2h-1zM215 285h1v2h-1zM216 283h1v2h-1zM217 282h1v1h-1zM218 280h1v2h-1zM219 278h1v2h-1zM220 276h1v2h-1zM221 274h1v2h-1zM222 272h1v2h-1zM223 269h1v3h-1zM224 267h1v2h-1zM225 265h1v2h-1zM226 262h1v3h-1zM227 260h1v2h-1zM228 258h1v2h-1zM229 256h1v2h-1zM230 253h1v3h-1zM231 251h1v2h-1zM232 249h1v2h-1zM233 246h1v3h-1zM234 244h1v2h-1zM235 243h1v1h-1zM236 242h1v1h-1zM237 240h1v2h-1zM238 239h1v1h-1zM239 238h1v1h-1zM240 237h1v1h-1zM241 235h1v2h-1zM242 234h1v1h-1zM243 233h1v1h-1zM244 232h1v1h-1zM245 230h1v2h-1zM246 229h1v1h-1zM247 228h1v1h-1zM248 227h1v1h-1zM249 226h1v1h-1zM250 225h1v1h-1zM251 224h1v1h-1zM252 224h1v1h-1zM253 223h1v1h-1zM254 222h1v1h-1zM255 221h1v1h-1zM256 220h1v1h-1zM257 219h1v1h-1zM258 219h1v1h-1zM259 218h1v1h-1zM260 217h1v1h-1zM261 216h1v1h-1zM262 215h1v1h-1zM263 214h1v1h-1zM264 213h1v1h-1zM265 212h1v1h-1zM266 211h1v1h-1zM267 210h1v1h-1zM268 209h1v1h-1zM269 208h1v1h-1zM270 208h1v1h-1zM271 207h1v1h-1zM272 206h1v1h-1zM273 205h1v1h-1zM274 204h1v1h-1zM275 203h1v1h-1zM276 202h1v1h-1zM277 200h1v2h-1zM278 199h1v1h-1zM279 197h1v2h-1zM280 195h1v2h-1zM281 194h1v1h-1zM282 192h1v2h-1zM283 191h1v1h-1zM284 189h1v2h-1zM285 187h1v2h-1zM286 186h1v1h-1zM287 184h1v2h-1zM288 183h1v1h-1zM289 181h1v2h-1zM290 179h1v2h-1zM291 178h1v1h-1zM292 176h1v2h-1zM293 175h1v1h-1zM294 174h1v1h-1zM295 172h1v2h-1zM296 171h1v1h-1zM297 170h1v1h-1zM298 169h1v1h-1zM299 167h1v2h-1zM300 166h1v1h-1zM301 165h1v1h-1zM302 164h1v1h-1zM303 162h1v2h-1zM304 161h1v1h-1zM305 160h1v1h-1zM306 159h1v1h-1zM307 158h1v1h-1zM308 157h1v1h-1zM309 156h1v1h-1zM310 156h1v1h-1zM311 155h1v1h-1zM312 154h1v1h-1zM313 153h1v1h-1zM314 152h1v1h-1zM315 151h1v1h-1zM316 149h1v2h-1zM317 148h1v1h-1zM318 147h1v1h-1zM319 146h1v1h-1zM320 145h1v1h-1zM321 144h1v1h-1zM322 142h1v2h-1zM323 141h1v1h-1zM324 140h1v1h-1zM325 139h1v1h-1zM326 138h1v1h-1zM327 137h1v1h-1zM328 136h1v1h-1zM329 134h1v2h-1zM330 133h1v1h-1zM331 132h1v1h-1zM332 131h1v1h-1zM333 130h1v1h-1zM334 129h1v1h-1zM335 127h1v2h-1zM336 126h1v1h-1zM337 125h1v1h-1zM338 124h1v1h-1zM339 123h1v1h-1zM340 122h1v1h-1zM341 122h1v1h-1zM342 121h1v1h-1zM343 120h1v1h-1zM344 120h1v1h-1zM345 119h1v1h-1zM346 118h1v1h-1zM347 117h1v1h-1zM348 117h1v1h-1zM349 116h1v1h-1zM350 115h1v1h-1zM351 115h1v1h-1zM352 114h1v1h-1zM353 114h1v1h-1zM354 113h1v1h-1zM355 113h1v1h-1zM356 112h1v1h-1zM357 112h1v1h-1zM358 112h1v1h-1zM359 111h1v1h-1zM360 111h1v1h-1zM361 111h1v1h-1zM362 111h1v1h-1zM363 112h1v1h-1zM364 112h1v1h-1zM365 112h1v1h-1zM366 113h1v1h-1zM367 114h1v1h-1zM368 114h1v1h-1zM369 115h1v1h-1zM370 116h1v1h-1zM371 117h1v1h-1zM372 118h1v1h-1zM373 118h1v1h-1zM374 119h1v1h-1zM375 120h1v2h-1zM376 122h1v2h-1zM377 124h1v1h-1zM378 125h1v2h-1zM379 127h1v2h-1zM380 129h1v2h-1zM381 131h1v2h-1zM382 133h1v1h-1zM383 134h1v2h-1zM384 136h1v2h-1zM385 138h1v2h-1zM386 140h1v2h-1zM387 142h1v2h-1zM388 144h1v2h-1zM389 146h1v2h-1zM390 148h1v2h-1zM391 150h1v2h-1zM392 152h1v2h-1zM393 154h1v2h-1zM394 156h1v2h-1zM395 158h1v2h-1zM396 160h1v2h-1zM397 162h1v2h-1zM398 164h1v2h-1zM399 166h1v3h-1zM400 169h1v2h-1zM401 171h1v2h-1zM402 173h1v2h-1zM403 175h1v2h-1zM404 177h1v2h-1zM405 179h1v1h-1zM406 180h1v2h-1zM407 182h1v2h-1zM408 184h1v2h-1zM409 186h1v1h-1zM410 187h1v2h-1zM411 189h1v2h-1zM412 191h1v1h-1zM413 192h1v2h-1zM414 194h1v1h-1zM415 195h1v2h-1zM416 197h1v1h-1zM417 198h1v1h-1zM418 199h1v1h-1zM419 200h1v2h-1zM420 202h1v1h-1zM421 203h1v1h-1zM422 204h1v2h-1zM423 206h1v1h-1zM424 207h1v2h-1zM425 209h1v3h-1zM426 212h1v2h-1zM427 214h1v2h-1zM428 216h1v3h-1zM429 219h1v2h-1zM430 221h1v3h-1zM431 224h1v2h-1zM432 226h1v3h-1zM433 229h1v2h-1zM434 231h1v3h-1zM435 234h1v2h-1zM436 236h1v3h-1zM437 239h1v2h-1zM438 241h1v2h-1zM439 243h1v1h-1zM440 244h1v2h-1zM441 246h1v2h-1zM442 248h1v2h-1zM443 250h1v2h-1zM444 252h1v1h-1zM445 253h1v2h-1zM446 255h1v1h-1zM447 256h1v2h-1zM448 258h1v1h-1zM449 259h1v2h-1zM450 261h1v2h-1zM451 263h1v1h-1zM452 264h1v2h-1zM453 266h1v2h-1zM454 268h1v1h-1zM455 269h1v2h-1zM456 271h1v2h-1zM457 273h1v1h-1zM458 274h1v2h-1zM459 276h1v1h-1zM460 277h1v1h-1zM461 278h1v1h-1zM462 279h1v1h-1zM463 280h1v1h-1zM464 281h1v1h-1zM465 282h1v1h-1zM466 283h1v1h-1zM467 284h1v1h-1zM468 285h1v1h-1zM469 286h1v1h-1zM470 287h1v1h-1zM471 288h1v1h-1zM472 289h1v1h-1zM473 290h1v1h-1zM474 291h1v1h-1zM475 292h1v1h-1zM476 293h1v1h-1zM477 294h1v1h-1zM478 295h1v1h-1zM479 296h1v1h-1zM480 296h1v1h-1zM481 297h1v1h-1zM482 298h1v1h-1zM483 299h1v1h-1zM484 300h1v1h-1zM485 301h1v1h-1zM486 302h1v1h-1zM487 303h1v2h-1zM488 305h1v1h-1zM489 306h1v2h-1zM490 308h1v1h-1zM491 309h1v2h-1zM492 311h1v1h-1zM493 312h1v2h-1zM494 314h1v1h-1zM495 315h1v2h-1zM496 317h1v2h-1zM497 319h1v3h-1zM498 322h1v2h-1zM499 324h1v2h-1zM500 326h1v2h-1zM501 328h1v2h-1zM502 330h1v3h-1zM503 333h1v2h-1zM504 335h1v2h-1zM505 337h1v2h-1zM506 339h1v2h-1zM507 341h1v1h-1zM508 342h1v2h-1zM509 344h1v2h-1zM510 346h1v2h-1zM511 348h1v2h-1zM512 350h1v1h-1zM513 351h1v2h-1zM514 353h1v2h-1zM515 355h1v1h-1zM516 356h1v1h-1zM517 356h1v1h-1zM518 357h1v1h-1zM519 358h1v1h-1zM520 358h1v1h-1zM521 359h1v1h-1zM522 360h1v1h-1zM523 361h1v1h-1zM524 361h1v1h-1zM525 362h1v1h-1zM526 363h1v1h-1zM527 364h1v2h-1zM528 366h1v1h-1zM529 367h1v1h-1zM530 368h1v1h-1zM531 369h1v2h-1zM532 371h1v1h-1zM533 372h1v1h-1zM534 373h1v1h-1zM535 374h1v1h-1zM536 375h1v1h-1zM537 376h1v1h-1zM538 377h1v1h-1zM539 378h1v1h-1zM540 379h1v1h-1zM541 380h1v1h-1zM542 381h1v1h-1zM543 382h1v1h-1zM544 383h1v1h-1zM545 384h1v1h-1zM546 385h1v1h-1zM547 385h1v1h-1zM548 386h1v1h-1zM549 387h1v1h-1zM550 388h1v1h-1zM551 389h1v1h-1zM552 389h1v1h-1zM553 390h1v1h-1zM554 391h1v1h-1zM555 392h1v1h-1zM556 393h1v1h-1zM557 393h1v1h-1zM558 394h1v1h-1zM559 395h1v1h-1zM560 396h1v1h-1zM561 397h1v1h-1zM562 397h1v1h-1zM563 398h1v1h-1zM564 399h1v1h-1zM565 400h1v1h-1zM566 400h1v1h-1zM567 401h1v1h-1zM568 402h1v1h-1zM569 402h1v1h-1zM570 403h1v1h-1zM571 402h1v1h-1zM572 401h1v1h-1zM573 400h1v1h-1zM574 399h1v1h-1zM575 398h1v1h-1zM576 397h1v1h-1zM577 395h1v2h-1zM578 393h1v2h-1zM579 391h1v2h-1zM580 388h1v3h-1zM581 386h1v2h-1zM582 384h1v2h-1zM583 382h1v2h-1zM584 379h1v3h-1zM585 377h1v2h-1zM586 375h1v2h-1zM587 373h1v2h-1zM588 370h1v3h-1zM589 368h1v2h-1zM590 366h1v2h-1zM591 363h1v3h-1zM592 361h1v2h-1zM593 359h1v2h-1zM594 357h1v2h-1zM595 355h1v2h-1zM596 353h1v2h-1zM597 351h1v2h-1zM598 350h1v1h-1zM599 348h1v2h-1zM600 346h1v2h-1zM601 344h1v2h-1zM602 342h1v2h-1zM603 340h1v2h-1zM604 338h1v2h-1zM605 337h1v1h-1zM606 335h1v2h-1zM607 333h1v2h-1zM608 331h1v2h-1zM609 330h1v1h-1zM610 328h1v2h-1zM611 326h1v2h-1zM612 324h1v2h-1zM613 323h1v1h-1zM614 321h1v2h-1zM615 319h1v2h-1zM616 317h1v2h-1zM617 315h1v2h-1zM618 313h1v2h-1zM619 311h1v2h-1zM620 309h1v2h-1zM621 307h1v2h-1zM622 306h1v1h-1zM623 304h1v2h-1zM624 302h1v2h-1zM625 300h1v2h-1zM626 298h1v2h-1zM627 296h1v2h-1zM628 294h1v2h-1zM629 292h1v2h-1zM630 290h1v2h-1zM631 288h1v2h-1zM632 287h1v1h-1zM633 285h1v2h-1zM634 283h1v2h-1zM635 281h1v2h-1zM636 279h1v2h-1zM637 277h1v2h-1zM638 276h1v1h-1zM639 274h1v2h-1zM640 272h1v2h-1zM641 270h1v2h-1zM642 269h1v1h-1zM643 267h1v2h-1zM644 266h1v1h-1zM645 265h1v1h-1zM646 263h1v2h-1zM647 262h1v1h-1zM648 261h1v1h-1zM649 260h1v1h-1zM650 258h1v2h-1zM651 257h1v1h-1zM652 256h1v1h-1zM653 256h1v1h-1zM654 255h1v1h-1zM655 255h1v1h-1zM656 255h1v1h-1zM657 254h1v1h-1zM658 254h1v1h-1zM659 254h1v1h-1zM660 254h1v1h-1zM661 253h1v1h-1zM662 253h1v1h-1zM663 253h1v1h-1zM664 253h1v1h-1zM665 253h1v1h-1zM666 253h1v1h-1zM667 253h1v1h-1zM668 253h1v1h-1zM669 253h1v1h-1zM670 253h1v1h-1zM671 253h1v1h-1zM672 253h1v1h-1zM673 253h1v1h-1zM674 253h1v1h-1zM675 253h1v1h-1zM676 253h1v1h-1zM677 252h1v1h-1zM678 252h1v1h-1zM679 252h1v1h-1zM680 251h1v1h-1zM681 251h1v1h-1zM682 251h1v1h-1zM683 251h1v1h-1zM684 250h1v1h-1zM685 250h1v1h-1zM686 250h1v1h-1zM687 249h1v1h-1zM688 249h1v1h-1zM689 249h1v1h-1zM690 249h1v1h-1zM691 248h1v1h-1zM692 248h1v1h-1zM693 248h1v1h-1zM694 248h1v1h-1zM695 247h1v1h-1zM696 247h1v1h-1zM697 247h1v1h-1zM698 247h1v1h-1zM699 246h1v1h-1zM700 246h1v1h-1zM701 246h1v1h-1zM702 245h1v1h-1zM703 245h1v1h-1zM704 244h1v1h-1zM705 243h1v1h-1zM706 243h1v1h-1zM707 242h1v1h-1zM708 241h1v1h-1zM709 241h1v1h-1zM710 240h1v1h-1zM711 240h1v1h-1zM712 240h1v1h-1zM713 240h1v1h-1zM714 240h1v1h-1zM715 240h1v1h-1zM716 239h1v1h-1zM717 239h1v1h-1zM718 239h1v1h-1zM719 239h1v1h-1zM720 239h1v1h-1zM721 239h1v1h-1zM722 240h1v1h-1zM723 240h1v1h-1zM724 241h1v1h-1zM725 241h1v1h-1zM726 242h1v1h-1zM727 242h1v1h-1zM728 243h1v1h-1zM729 243h1v1h-1zM730 244h1v1h-1zM731 244h1v1h-1zM732 245h1v1h-1zM733 245h1v1h-1zM734 245h1v1h-1zM735 246h1v1h-1zM736 246h1v1h-1zM737 247h1v1h-1zM738 247h1v1h-1zM739 247h1v1h-1zM740 248h1v1h-1zM741 248h1v1h-1zM742 249h1v1h-1zM743 249h1v1h-1zM744 249h1v1h-1zM745 248h1v1h-1zM746 248h1v1h-1zM747 247h1v1h-1zM748 247h1v1h-1zM749 246h1v1h-1zM750 246h1v1h-1zM751 246h1v1h-1zM752 246h1v1h-1zM753 246h1v1h-1zM754 246h1v1h-1zM755 246h1v1h-1zM756 245h1v1h-1zM757 245h1v1h-1zM758 245h1v1h-1zM759 245h1v1h-1zM760 245h1v1h-1zM761 245h1v1h-1zM762 246h1v1h-1zM763 246h1v1h-1zM764 246h1v1h-1zM765 246h1v1h-1zM766 246h1v1h-1zM767 247h1v1h-1zM768 247h1v1h-1zM769 247h1v1h-1zM770 247h1v1h-1zM771 247h1v1h-1zM772 247h1v1h-1zM773 246h1v1h-1zM774 246h1v1h-1zM775 246h1v1h-1zM776 246h1v1h-1zM777 246h1v1h-1zM778 246h1v1h-1zM779 246h1v1h-1zM780 245h1v1h-1zM781 245h1v1h-1zM782 245h1v1h-1zM783 244h1v1h-1zM784 244h1v1h-1zM785 244h1v1h-1zM786 244h1v1h-1zM787 244h1v1h-1zM788 244h1v1h-1zM789 244h1v1h-1zM790 244h1v1h-1zM791 244h1v1h-1zM792 245h1v1h-1zM793 245h1v1h-1zM794 245h1v1h-1zM795 246h1v1h-1zM796 246h1v1h-1zM797 245h1v1h-1zM798 245h1v1h-1zM799 244h1v1h-1zM800 244h1v1h-1zM801 243h1v1h-1zM802 243h1v1h-1zM803 242h1v1h-1zM804 242h1v1h-1zM805 242h1v1h-1zM806 242h1v1h-1zM807 241h1v1h-1zM808 241h1v1h-1zM809 241h1v1h-1zM810 241h1v1h-1zM811 241h1v1h-1zM812 240h1v1h-1zM813 240h1v1h-1zM814 240h1v1h-1zM815 240h1v1h-1zM816 240h1v1h-1zM817 240h1v1h-1zM818 240h1v1h-1zM819 240h1v1h-1zM820 240h1v1h-1zM821 240h1v1h-1zM822 240h1v1h-1zM823 240h1v1h-1zM824 240h1v1h-1zM825 240h1v1h-1zM826 241h1v1h-1zM827 241h1v1h-1zM828 242h1v1h-1zM829 242h1v1h-1zM830 243h1v1h-1zM831 244h1v1h-1zM832 245h1v1h-1zM833 245h1v1h-1zM834 246h1v1h-1zM835 247h1v1h-1zM836 248h1v1h-1zM837 249h1v1h-1zM838 250h1v1h-1zM839 251h1v1h-1zM840 252h1v1h-1zM841 253h1v1h-1zM842 254h1v1h-1zM843 254h1v1h-1zM844 255h1v1h-1zM845 256h1v1h-1zM846 257h1v1h-1zM847 257h1v1h-1zM848 258h1v1h-1zM849 258h1v1h-1zM850 259h1v1h-1zM851 259h1v1h-1zM852 259h1v1h-1zM853 259h1v1h-1zM854 260h1v1h-1zM855 260h1v1h-1zM856 260h1v1h-1zM857 261h1v1h-1zM858 261h1v1h-1zM859 262h1v1h-1zM860 262h1v1h-1zM861 263h1v1h-1zM862 264h1v2h-1zM863 266h1v1h-1zM864 267h1v1h-1zM865 268h1v1h-1zM866 269h1v1h-1zM867 270h1v1h-1zM868 271h1v1h-1zM869 272h1v1h-1zM870 273h1v1h-1zM871 274h1v2h-1zM872 276h1v1h-1zM873 277h1v2h-1zM874 279h1v1h-1zM875 280h1v1h-1zM876 281h1v1h-1zM877 282h1v2h-1zM878 284h1v1h-1zM879 285h1v1h-1zM880 286h1v1h-1zM881 287h1v1h-1zM882 288h1v1h-1zM883 289h1v1h-1zM884 290h1v1h-1z"/>
<path fill="#0000ff" d="M898 290h1v1h-1zM899 290h1v1h-1zM900 290h1v1h-1zM901 291h1v1h-1zM902 291h1v1h-1zM903 291h1v1h-1zM904 291h1v1h-1zM905 291h1v1h-1zM906 290h1v1h-1zM907 290h1v1h-1zM908 290h1v1h-1zM909 290h1v1h-1zM910 290h1v1h-1zM911 289h1v1h-1zM912 289h1v1h-1zM913 289h1v1h-1zM914 289h1v1h-1zM915 288h1v1h-1zM916 288h1v1h-1zM917 288h1v1h-1zM918 288h1v1h-1zM919 287h1v1h-1zM920 287h1v1h-1zM921 287h1v1h-1zM922 286h1v1h-1zM923 286h1v1h-1zM924 285h1v1h-1z"/>
<path fill="#ff0000" d="M4 170h1v2h-1zM5 172h1v2h-1zM6 174h1v2h-1zM7 176h1v2h-1zM8 178h1v2h-1zM9 180h1v2h-1zM10 182h1v2h-1zM11 184h1v2h-1zM12 186h1v2h-1zM13 188h1v2h-1zM14 190h1v3h-1zM15 193h1v2h-1zM16 195h1v3h-1zM17 198h1v2h-1zM18 200h1v2h-1zM19 202h1v3h-1zM20 205h1v2h-1zM21 207h1v2h-1zM22 209h1v3h-1zM23 212h1v2h-1zM24 214h1v3h-1zM25 217h1v2h-1zM26 219h1v2h-1zM27 221h1v2h-1zM28 223h1v2h-1zM29 225h1v2h-1zM30 227h1v3h-1zM31 230h1v2h-1zM32 232h1v2h-1zM33 234h1v2h-1zM34 236h1v2h-1zM35 238h1v2h-1zM36 240h1v2h-1zM37 242h1v3h-1zM38 245h1v3h-1zM39 248h1v2h-1zM40 250h1v2h-1zM41 252h1v3h-1zM42 255h1v1h-1zM43 255h1v1h-1zM44 256h1v1h-1zM45 256h1v1h-1zM46 256h1v1h-1zM47 256h1v1h-1zM48 257h1v1h-1zM49 257h1v1h-1zM50 257h1v1h-1zM51 258h1v1h-1zM52 258h1v1h-1zM53 258h1v1h-1zM54 259h1v1h-1zM55 259h1v1h-1zM56 260h1v1h-1zM57 260h1v1h-1zM58 260h1v1h-1zM59 261h1v1h-1zM60 261h1v1h-1zM61 262h1v1h-1zM62 262h1v1h-1zM63 261h1v1h-1zM64 261h1v1h-1zM65 260h1v1h-1zM66 259h1v1h-1zM67 258h1v1h-1zM68 258h1v1h-1zM69 257h1v1h-1zM70 256h1v1h-1zM71 256h1v1h-1zM72 255h1v1h-1zM73 253h1v2h-1zM74 252h1v1h-1zM75 251h1v1h-1zM76 249h1v2h-1zM77 248h1v1h-1zM78 247h1v1h-1zM79 245h1v2h-1zM80 244h1v1h-1zM81 243h1v1h-1zM82 243h1v1h-1zM83 243h1v1h-1zM84 243h1v1h-1zM85 242h1v1h-1zM86 242h1v1h-1zM87 242h1v1h-1zM88 242h1v1h-1zM89 242h1v1h-1zM90 242h1v1h-1zM91 241h1v1h-1zM92 241h1v1h-1zM93 241h1v1h-1zM94 241h1v1h-1zM95 241h1v1h-1zM96 242h1v1h-1zM97 242h1v1h-1zM98 243h1v1h-1zM99 243h1v1h-1zM100 243h1v1h-1zM101 244h1v1h-1zM102 244h1v1h-1zM103 245h1v1h-1zM104 245h1v1h-1zM105 246h1v1h-1zM106 247h1v1h-1zM107 248h1v1h-1zM108 248h1v1h-1zM109 249h1v1h-1zM110 250h1v1h-1zM111 251h1v1h-1zM112 251h1v1h-1zM113 251h1v1h-1zM114 251h1v1h-1zM115 252h1v1h-1zM116 252h1v1h-1zM117 252h1v1h-1zM118 252h1v1h-1zM119 252h1v1h-1zM120 252h1v1h-1zM121 253h1v1h-1zM122 253h1v1h-1zM123 253h1v1h-1zM124 253h1v1h-1zM125 254h1v1h-1zM126 255h1v1h-1zM127 256h1v2h-1zM128 258h1v1h-1zM129 259h1v1h-1zM130 260h1v2h-1zM131 262h1v2h-1zM132 264h1v3h-1zM133 267h1v2h-1zM134 269h1v2h-1zM135 271h1v2h-1zM136 273h1v2h-1zM137 275h1v3h-1zM138 278h1v2h-1zM139 280h1v2h-1zM140 282h1v2h-1zM141 284h1v2h-1zM142 286h1v2h-1zM143 288h1v2h-1zM144 290h1v2h-1zM145 292h1v2h-1zM146 294h1v2h-1zM147 296h1v2h-1zM148 298h1v2h-1zM149 300h1v2h-1zM150 302h1v1h-1zM151 303h1v1h-1zM152 304h1v1h-1zM153 305h1v1h-1zM154 305h1v1h-1zM155 306h1v1h-1zM156 307h1v1h-1zM157 308h1v1h-1zM158 309h1v1h-1zM159 310h1v1h-1zM160 310h1v1h-1zM161 311h1v1h-1zM162 312h1v1h-1zM163 313h1v1h-1zM164 313h1v1h-1zM165 314h1v1h-1zM166 314h1v1h-1zM167 314h1v1h-1zM168 314h1v1h-1zM169 315h1v1h-1zM170 315h1v1h-1zM171 315h1v1h-1zM172 316h1v1h-1zM173 316h1v1h-1zM174 316h1v1h-1zM175 315h1v1h-1zM176 315h1v1h-1zM177 314h1v1h-1zM178 314h1v1h-1zM179 313h1v1h-1zM180 313h1v1h-1zM181 312h1v1h-1zM182 312h1v1h-1zM183 311h1v1h-1zM184 310h1v1h-1zM185 310h1v1h-1zM186 309h1v1h-1zM187 308h1v1h-1zM188 307h1v1h-1zM189 306h1v1h-1zM190 306h1v1h-1zM191 305h1v1h-1zM192 303h1v2h-1zM193 301h1v2h-1zM194 300h1v1h-1zM195 298h1v2h-1zM196 296h1v2h-1zM197 294h1v2h-1zM198 292h1v2h-1zM199 291h1v1h-1zM200 289h1v2h-1zM201 287h1v2h-1zM202 285h1v2h-1zM203 283h1v2h-1zM204 281h1v2h-1zM205 279h1v2h-1zM206 277h1v2h-1zM207 275h1v2h-1zM208 273h1v2h-1zM209 271h1v2h-1zM210 269h1v2h-1zM211 267h1v2h-1zM212 264h1v3h-1zM213 262h1v2h-1zM214 259h1v3h-1zM215 257h1v2h-1zM216 254h1v3h-1zM217 251h1v3h-1zM218 249h1v2h-1zM219 246h1v3h-1zM220 244h1v2h-1zM221 241h1v3h-1zM222 239h1v2h-1zM223 238h1v1h-1zM224 236h1v2h-1zM225 234h1v2h-1zM226 233h1v1h-1zM227 231h1v2h-1zM228 229h1v2h-1zM229 228h1v1h-1zM230 226h1v2h-1zM231 225h1v1h-1zM232 223h1v2h-1zM233 222h1v1h-1zM234 221h1v1h-1zM235 219h1v2h-1zM236 218h1v1h-1zM237 217h1v1h-1zM238 216h1v1h-1zM239 214h1v2h-1zM240 213h1v1h-1zM241 212h1v1h-1zM242 211h1v1h-1zM243 210h1v1h-1zM244 209h1v1h-1zM245 209h1v1h-1zM246 208h1v1h-1zM247 207h1v1h-1zM248 206h1v1h-1zM249 205h1v1h-1zM250 205h1v1h-1zM251 204h1v1h-1zM252 204h1v1h-1zM253 203h1v1h-1zM254 203h1v1h-1zM255 202h1v1h-1zM256 201h1v1h-1zM257 200h1v1h-1zM258 199h1v1h-1zM259 198h1v1h-1zM260 197h1v1h-1zM261 196h1v1h-1zM262 195h1v1h-1zM263 194h1v1h-1zM264 193h1v1h-1zM265 191h1v2h-1zM266 190h1v1h-1zM267 189h1v1h-1zM268 188h1v1h-1zM269 188h1v1h-1zM270 188h1v1h-1zM271 188h1v1h-1zM272 188h1v1h-1zM273 187h1v1h-1zM274 187h1v1h-1zM275 187h1v1h-1zM276 187h1v1h-1zM277 188h1v1h-1zM278 189h1v1h-1zM279 190h1v1h-1zM280 191h1v1h-1zM281 191h1v1h-1zM282 190h1v1h-1zM283 189h1v1h-1zM284 188h1v1h-1zM285 187h1v1h-1zM286 186h1v1h-1zM287 184h1v2h-1zM288 182h1v2h-1zM289 180h1v2h-1zM290 178h1v2h-1zM291 176h1v2h-1zM292 174h1v2h-1zM293 172h1v2h-1zM294 169h1v3h-1zM295 167h1v2h-1zM296 165h1v2h-1zM297 163h1v2h-1zM298 160h1v3h-1zM299 158h1v2h-1zM300 156h1v2h-1zM301 153h1v3h-1zM302 151h1v2h-1zM303 149h1v2h-1zM304 147h1v2h-1zM305 145h1v2h-1zM306 143h1v2h-1zM307 141h1v2h-1zM308 139h1v2h-1zM309 137h1v2h-1zM310 135h1v2h-1zM311 133h1v2h-1zM312 131h1v2h-1zM313 129h1v2h-1zM314 128h1v1h-1zM315 126h1v2h-1zM316 124h1v2h-1zM317 122h1v2h-1zM318 120h1v2h-1zM319 119h1v1h-1zM320 117h1v2h-1zM321 116h1v1h-1zM322 115h1v1h-1zM323 113h1v2h-1zM324 112h1v1h-1zM325 111h1v1h-1zM326 110h1v1h-1zM327 108h1v2h-1zM328 107h1v1h-1zM329 106h1v1h-1zM330 105h1v1h-1zM331 104h1v1h-1zM332 103h1v1h-1zM333 102h1v1h-1zM334 101h1v1h-1zM335 100h1v1h-1zM336 99h1v1h-1zM337 98h1v1h-1zM338 97h1v1h-1zM339 96h1v1h-1zM340 96h1v1h-1zM341 96h1v1h-1zM342 96h1v1h-1zM343 96h1v1h-1zM344 95h1v1h-1zM345 95h1v1h-1zM346 95h1v1h-1zM347 95h1v1h-1zM348 95h1v1h-1zM349 96h1v1h-1zM350 97h1v1h-1zM351 98h1v1h-1zM352 99h1v1h-1zM353 100h1v1h-1zM354 101h1v1h-1zM355 102h1v2h-1zM356 104h1v2h-1zM357 106h1v1h-1zM358 107h1v2h-1zM359 109h1v2h-1zM360 111h1v2h-1zM361 113h1v2h-1zM362 115h1v1h-1zM363 116h1v2h-1zM364 118h1v2h-1zM365 120h1v2h-1zM366 122h1v2h-1zM367 124h1v1h-1zM368 125h1v2h-1zM369 127h1v2h-1zM370 129h1v2h-1zM371 131h1v2h-1zM372 133h1v1h-1zM373 134h1v2h-1zM374 136h1v2h-1zM375 138h1v2h-1zM376 140h1v2h-1zM377 142h1v2h-1zM378 144h1v2h-1zM379 146h1v2h-1zM380 148h1v3h-1zM381 151h1v2h-1zM382 153h1v2h-1zM383 155h1v2h-1zM384 157h1v2h-1zM385 159h1v3h-1zM386 162h1v3h-1zM387 165h1v3h-1zM388 168h1v3h-1zM389 171h1v2h-1zM390 173h1v3h-1zM391 176h1v3h-1zM392 179h1v3h-1zM393 182h1v3h-1zM394 185h1v2h-1zM395 187h1v3h-1zM396 190h1v2h-1zM397 192h1v2h-1zM398 194h1v2h-1zM399 196h1v3h-1zM400 199h1v2h-1zM401 201h1v2h-1zM402 203h1v3h-1zM403 206h1v2h-1zM404 208h1v2h-1zM405 210h1v2h-1zM406 212h1v1h-1zM407 213h1v2h-1zM408 215h1v2h-1zM409 217h1v2h-1zM410 219h1v2h-1zM411 221h1v1h-1zM412 222h1v2h-1zM413 224h1v2h-1zM414 226h1v1h-1zM415 227h1v2h-1zM416 229h1v1h-1zM417 230h1v1h-1zM418 231h1v1h-1zM419 232h1v2h-1zM420 234h1v1h-1zM421 235h1v1h-1zM422 236h1v2h-1zM423 238h1v1h-1zM424 239h1v1h-1zM425 240h1v2h-1zM426 242h1v1h-1zM427 243h1v1h-1zM428 244h1v2h-1zM429 246h1v1h-1zM430 247h1v2h-1zM431 249h1v2h-1zM432 251h1v2h-1zM433 253h1v1h-1zM434 254h1v2h-1zM435 256h1v2h-1zM436 258h1v2h-1zM437 260h1v2h-1zM438 262h1v2h-1zM439 264h1v2h-1zM440 266h1v3h-1zM441 269h1v2h-1zM442 271h1v2h-1zM443 273h1v1h-1zM444 274h1v1h-1zM445 275h1v1h-1zM446 276h1v2h-1zM447 278h1v1h-1zM448 279h1v1h-1zM449 280h1v1h-1zM450 281h1v1h-1zM451 282h1v1h-1zM452 283h1v2h-1zM453 285h1v1h-1zM454 286h1v1h-1zM455 287h1v1h-1zM456 288h1v2h-1zM457 290h1v1h-1zM458 291h1v1h-1zM459 292h1v1h-1zM460 293h1v2h-1zM461 295h1v1h-1zM462 296h1v1h-1zM463 297h1v1h-1zM464 298h1v2h-1zM465 300h1v1h-1zM466 301h1v1h-1zM467 302h1v2h-1zM468 304h1v1h-1zM469 305h1v1h-1zM470 306h1v1h-1zM471 307h1v1h-1zM472 308h1v1h-1zM473 309h1v1h-1zM474 310h1v2h-1zM475 312h1v1h-1zM476 313h1v1h-1zM477 314h1v1h-1zM478 315h1v1h-1zM479 316h1v1h-1zM480 317h1v1h-1zM481 317h1v1h-1zM482 318h1v1h-1zM483 319h1v1h-1zM484 320h1v1h-1zM485 320h1v1h-1zM486 321h1v1h-1zM487 322h1v1h-1zM488 322h1v1h-1zM489 323h1v1h-1zM490 324h1v1h-1zM491 325h1v1h-1zM492 325h1v1h-1zM493 326h1v1h-1zM494 327h1v1h-1zM495 328h1v1h-1zM496 329h1v1h-1zM497 329h1v1h-1zM498 330h1v1h-1zM499 331h1v3h-1zM500 334h1v2h-1zM501 336h1v3h-1zM502 339h1v3h-1zM503 342h1v2h-1zM504 344h1v3h-1zM505 347h1v3h-1zM506 350h1v2h-1zM507 352h1v3h-1zM508 355h1v2h-1zM509 357h1v3h-1zM510 360h1v2h-1zM511 362h1v2h-1zM512 364h1v2h-1zM513 366h1v3h-1zM514 369h1v2h-1zM515 371h1v2h-1zM516 373h1v3h-1zM517 376h1v2h-1zM518 378h1v2h-1zM519 380h1v1h-1zM520 381h1v2h-1zM521 383h1v1h-1zM522 384h1v2h-1zM523 386h1v2h-1zM524 388h1v1h-1zM525 389h1v2h-1zM526 391h1v1h-1zM527 392h1v2h-1zM528 394h1v1h-1zM529 395h1v2h-1zM530 397h1v1h-1zM531 398h1v2h-1zM532 400h1v1h-1zM533 401h1v1h-1zM534 402h1v2h-1zM535 404h1v1h-1zM536 405h1v2h-1zM537 407h1v1h-1zM538 408h1v1h-1zM539 409h1v1h-1zM540 410h1v1h-1zM541 410h1v1h-1zM542 411h1v1h-1zM543 412h1v1h-1zM544 413h1v1h-1zM545 413h1v1h-1zM546 414h1v1h-1zM547 415h1v1h-1zM548 415h1v1h-1zM549 415h1v1h-1zM550 415h1v1h-1zM551 414h1v1h-1zM552 414h1v1h-1zM553 414h1v1h-1zM554 414h1v1h-1zM555 413h1v1h-1zM556 412h1v1h-1zM557 411h1v1h-1zM558 410h1v1h-1zM559 409h1v1h-1zM560 408h1v1h-1zM561 407h1v1h-1zM562 406h1v1h-1zM563 405h1v1h-1zM564 403h1v2h-1zM565 401h1v2h-1zM566 399h1v2h-1zM567 398h1v1h-1zM568 396h1v2h-1zM569 394h1v2h-1zM570 391h1v3h-1zM571 388h1v3h-1zM572 385h1v3h-1zM573 383h1v2h-1zM574 380h1v3h-1zM575 377h1v3h-1zM576 374h1v3h-1zM577 371h1v3h-1zM578 368h1v3h-1zM579 365h1v3h-1zM580 362h1v3h-1zM581 359h1v3h-1zM582 357h1v2h-1zM583 354h1v3h-1zM584 351h1v3h-1zM585 348h1v3h-1zM586 345h1v3h-1zM587 342h1v3h-1zM588 339h1v3h-1zM589 336h1v3h-1zM590 333h1v3h-1zM591 331h1v2h-1zM592 328h1v3h-1zM593 325h1v3h-1zM594 322h1v3h-1zM595 319h1v3h-1zM596 317h1v2h-1zM597 314h1v3h-1zM598 312h1v2h-1zM599 310h1v2h-1zM600 307h1v3h-1zM601 305h1v2h-1zM602 303h1v2h-1zM603 301h1v2h-1zM604 298h1v3h-1zM605 296h1v2h-1zM606 294h1v2h-1zM607 292h1v2h-1zM608 290h1v2h-1zM609 288h1v2h-1zM610 287h1v1h-1zM611 285h1v2h-1zM612 283h1v2h-1zM613 281h1v2h-1zM614 279h1v2h-1zM615 277h1v2h-1zM616 276h1v1h-1zM617 274h1v2h-1zM618 273h1v1h-1zM619 272h1v1h-1zM620 271h1v1h-1zM621 269h1v2h-1zM622 268h1v1h-1zM623 267h1v1h-1zM624 265h1v2h-1zM625 264h1v1h-1zM626 263h1v1h-1zM627 262h1v1h-1zM628 262h1v1h-1zM629 261h1v1h-1zM630 261h1v1h-1zM631 260h1v1h-1zM632 260h1v1h-1zM633 259h1v1h-1zM634 259h1v1h-1zM635 258h1v1h-1zM636 258h1v1h-1zM637 257h1v1h-1zM638 257h1v1h-1zM639 256h1v1h-1zM640 256h1v1h-1zM641 256h1v1h-1zM642 255h1v1h-1zM643 255h1v1h-1zM644 255h1v1h-1zM645 254h1v1h-1zM646 254h1v1h-1zM647 253h1v1h-1zM648 253h1v1h-1zM649 253h1v1h-1zM650 252h1v1h-1zM651 252h1v1h-1zM652 252h1v1h-1zM653 252h1v1h-1zM654 251h1v1h-1zM655 251h1v1h-1zM656 251h1v1h-1zM657 250h1v1h-1zM658 250h1v1h-1zM659 250h1v1h-1zM660 250h1v1h-1zM661 249h1v1h-1zM662 249h1v1h-1zM663 249h1v1h-1zM664 249h1v1h-1zM665 249h1v1h-1zM666 250h1v1h-1zM667 250h1v1h-1zM668 250h1v1h-1zM669 250h1v1h-1zM670 250h1v1h-1zM671 250h1v1h-1zM672 251h1v1h-1zM673 251h1v1h-1zM674 251h1v1h-1zM675 251h1v1h-1zM676 251h1v1h-1zM677 250h1v1h-1zM678 250h1v1h-1zM679 249h1v1h-1zM680 249h1v1h-1zM681 249h1v1h-1zM682 248h1v1h-1zM683 248h1v1h-1zM684 248h1v1h-1zM685 247h1v1h-1zM686 247h1v1h-1zM687 246h1v1h-1zM688 246h1v1h-1zM689 246h1v1h-1zM690 246h1v1h-1zM691 246h1v1h-1zM692 246h1v1h-1zM693 246h1v1h-1zM694 246h1v1h-1zM695 245h1v1h-1zM696 245h1v1h-1zM697 245h1v1h-1zM698 245h1v1h-1zM699 245h1v1h-1zM700 245h1v1h-1zM701 245h1v1h-1zM702 245h1v1h-1zM703 244h1v1h-1zM704 244h1v1h-1zM705 243h1v1h-1zM706 243h1v1h-1zM707 242h1v1h-1zM708 242h1v1h-1zM709 241h1v1h-1zM710 241h1v1h-1zM711 241h1v1h-1zM712 241h1v1h-1zM713 240h1v1h-1zM714 240h1v1h-1zM715 240h1v1h-1zM716 240h1v1h-1zM717 240h1v1h-1zM718 239h1v1h-1zM719 239h1v1h-1zM720 239h1v1h-1zM721 239h1v1h-1zM722 239h1v1h-1zM723 239h1v1h-1zM724 240h1v1h-1zM725 240h1v1h-1zM726 240h1v1h-1zM727 240h1v1h-1zM728 241h1v1h-1zM729 241h1v1h-1zM730 242h1v1h-1zM731 242h1v1h-1zM732 243h1v1h-1zM733 243h1v1h-1zM734 244h1v1h-1zM735 244h1v1h-1zM736 245h1v1h-1zM737 246h1v1h-1zM738 246h1v1h-1zM739 247h1v1h-1zM740 248h1v1h-1zM741 249h1v1h-1zM742 249h1v1h-1zM743 250h1v1h-1zM744 250h1v1h-1zM745 249h1v1h-1zM746 249h1v1h-1zM747 248h1v1h-1zM748 248h1v1h-1zM749 247h1v1h-1zM750 247h1v1h-1zM751 247h1v1h-1zM752 247h1v1h-1zM753 247h1v1h-1zM754 247h1v1h-1zM755 248h1v1h-1zM756 248h1v1h-1zM757 248h1v1h-1zM758 248h1v1h-1zM759 248h1v1h-1zM760 248h1v1h-1zM761 249h1v1h-1zM762 250h1v1h-1zM763 251h1v1h-1zM764 252h1v1h-1zM765 253h1v1h-1zM766 254h1v1h-1zM767 255h1v1h-1zM768 256h1v1h-1zM769 255h1v1h-1zM770 255h1v1h-1zM771 254h1v1h-1zM772 254h1v1h-1zM773 253h1v1h-1zM774 253h1v1h-1zM775 252h1v1h-1zM776 252h1v1h-1zM777 251h1v1h-1zM778 250h1v1h-1zM779 250h1v1h-1zM780 249h1v1h-1zM781 248h1v1h-1zM782 248h1v1h-1zM783 247h1v1h-1zM784 247h1v1h-1zM785 246h1v1h-1zM786 245h1v1h-1zM787 244h1v1h-1zM788 243h1v1h-1zM789 242h1v1h-1zM790 240h1v2h-1zM791 238h1v2h-1zM792 237h1v1h-1zM793 235h1v2h-1zM794 233h1v2h-1zM795 232h1v1h-1zM796 232h1v1h-1zM797 232h1v1h-1zM798 231h1v1h-1zM799 231h1v1h-1zM800 231h1v1h-1zM801 231h1v1h-1zM802 232h1v1h-1zM803 232h1v1h-1zM804 232h1v1h-1zM805 233h1v1h-1zM806 233h1v1h-1zM807 233h1v1h-1zM808 233h1v1h-1zM809 233h1v1h-1zM810 234h1v1h-1zM811 234h1v1h-1zM812 234h1v1h-1zM813 234h1v1h-1zM814 234h1v1h-1zM815 235h1v1h-1zM816 235h1v1h-1zM817 236h1v1h-1zM818 236h1v1h-1zM819 237h1v1h-1zM820 237h1v1h-1zM821 238h1v1h-1zM822 238h1v1h-1zM823 239h1v1h-1zM824 240h1v1h-1zM825 240h1v1h-1zM826 241h1v1h-1zM827 242h1v1h-1zM828 243h1v1h-1zM829 244h1v1h-1zM830 245h1v1h-1zM831 246h1v1h-1zM832 247h1v1h-1zM833 248h1v1h-1zM834 249h1v2h-1zM835 251h1v1h-1zM836 252h1v2h-1zM837 254h1v1h-1zM838 255h1v2h-1zM839 257h1v1h-1zM840 258h1v2h-1zM841 260h1v2h-1zM842 262h1v2h-1zM843 264h1v2h-1zM844 266h1v2h-1zM845 268h1v2h-1zM846 270h1v1h-1zM847 271h1v1h-1zM848 272h1v1h-1zM849 273h1v2h-1zM850 275h1v1h-1zM851 276h1v1h-1zM852 277h1v1h-1zM853 278h1v1h-1zM854 279h1v1h-1zM855 279h1v1h-1zM856 280h1v1h-1zM857 281h1v1h-1zM858 282h1v1h-1zM859 282h1v1h-1zM860 283h1v1h-1zM861 284h1v1h-1zM862 285h1v1h-1zM863 286h1v2h-1zM864 288h1v1h-1zM865 289h1v1h-1zM866 290h1v1h-1zM867 291h1v1h-1zM868 292h1v1h-1zM869 293h1v1h-1zM870 294h1v1h-1zM871 294h1v1h-1zM872 295h1v1h-1zM873 296h1v1h-1zM874 297h1v1h-1zM875 298h1v1h-1zM876 299h1v2h-1zM877 301h1v1h-1zM878 302h1v1h-1zM879 303h1v1h-1zM880 304h1v1h-1zM881 304h1v1h-1zM882 304h1v1h-1zM883 305h1v1h-1zM884 305h1v1h-1zM885 304h1v1h-1zM886 304h1v1h-1zM887 303h1v1h-1zM888 303h1v1h-1zM889 302h1v1h-1zM890 301h1v1h-1zM891 301h1v1h-1zM892 300h1v1h-1zM893 298h1v2h-1zM894 297h1v1h-1zM895 295h1v2h-1zM896 294h1v1h-1zM897 292h1v2h-1zM898 291h1v1h-1zM899 289h1v2h-1zM900 288h1v1h-1zM901 287h1v1h-1zM902 287h1v1h-1zM903 287h1v1h-1zM904 286h1v1h-1zM905 286h1v1h-1zM906 286h1v1h-1zM907 286h1v1h-1zM908 286h1v1h-1zM909 286h1v1h-1zM910 285h1v1h-1zM911 285h1v1h-1zM912 285h1v1h-1zM913 285h1v1h-1zM914 284h1v1h-1zM915 284h1v1h-1zM916 283h1v1h-1zM917 283h1v1h-1zM918 282h1v1h-1zM919 282h1v1h-1zM920 281h1v1h-1zM921 281h1v1h-1zM922 280h1v1h-1zM923 280h1v1h-1zM924 280h1v1h-1zM925 280h1v1h-1z"/>
<path fill="#c0c0c0" d="M3 524h3v22h-3zM7 524h3v28h-3zM11 524h3v35h-3zM15 524h3v38h-3zM19 524h3v38h-3zM23 524h3v38h-3zM27 524h3v37h-3zM31 524h3v34h-3zM35 524h3v32h-3zM39 524h3v33h-3zM43 524h3v31h-3zM47 524h3v28h-3zM51 524h3v25h-3zM55 524h3v22h-3zM59 524h3v20h-3zM63 524h3v19h-3zM67 524h3v19h-3zM71 524h3v17h-3zM75 524h3v13h-3zM79 524h3v11h-3zM83 524h3v12h-3zM87 524h3v10h-3zM91 524h3v10h-3zM95 524h3v13h-3zM99 524h3v16h-3zM103 524h3v14h-3zM107 524h3v14h-3zM111 524h3v14h-3zM115 524h3v12h-3zM119 524h3v13h-3zM123 524h3v14h-3zM127 524h3v17h-3zM131 524h3v20h-3zM135 524h3v22h-3zM139 524h3v24h-3zM143 524h3v26h-3zM147 524h3v27h-3zM151 524h3v29h-3zM155 524h3v27h-3zM159 524h3v23h-3zM163 524h3v18h-3zM167 524h3v15h-3zM171 524h3v12h-3zM175 524h3v8h-3zM179 524h3v6h-3zM183 524h3v5h-3zM187 524h3v3h-3zM191 523h3v1h-3zM195 520h3v4h-3zM199 519h3v5h-3zM203 518h3v6h-3zM207 517h3v7h-3zM211 516h3v8h-3zM215 511h3v13h-3zM219 506h3v18h-3zM223 500h3v24h-3zM227 499h3v25h-3zM231 500h3v24h-3zM235 502h3v22h-3zM239 504h3v20h-3zM243 506h3v18h-3zM247 506h3v18h-3zM251 507h3v17h-3zM255 507h3v17h-3zM259 508h3v16h-3zM263 508h3v16h-3zM267 508h3v16h-3zM271 509h3v15h-3zM275 509h3v15h-3zM279 507h3v17h-3zM283 504h3v20h-3zM287 502h3v22h-3zM291 500h3v24h-3zM295 497h3v27h-3zM299 494h3v30h-3zM303 492h3v32h-3zM307 491h3v33h-3zM311 490h3v34h-3zM315 490h3v34h-3zM319 492h3v32h-3zM323 495h3v29h-3zM327 498h3v26h-3zM331 500h3v24h-3zM335 501h3v23h-3zM339 502h3v22h-3zM343 503h3v21h-3zM347 505h3v19h-3zM351 510h3v14h-3zM355 513h3v11h-3zM359 517h3v7h-3zM363 519h3v5h-3zM367 523h3v1h-3zM371 524h3v5h-3zM375 524h3v10h-3zM379 524h3v13h-3zM383 524h3v16h-3zM387 524h3v18h-3zM391 524h3v21h-3zM395 524h3v22h-3zM399 524h3v24h-3zM403 524h3v25h-3zM407 524h3v26h-3zM411 524h3v26h-3zM415 524h3v26h-3zM419 524h3v24h-3zM423 524h3v23h-3zM427 524h3v25h-3zM431 524h3v30h-3zM435 524h3v34h-3zM439 524h3v38h-3zM443 524h3v39h-3zM447 524h3v35h-3zM451 524h3v30h-3zM455 524h3v30h-3zM459 524h3v31h-3zM463 524h3v30h-3zM467 524h3v30h-3zM471 524h3v30h-3zM475 524h3v29h-3zM479 524h3v26h-3zM483 524h3v25h-3zM487 524h3v26h-3zM491 524h3v29h-3zM495 524h3v32h-3zM499 524h3v35h-3zM503 524h3v38h-3zM507 524h3v42h-3zM511 524h3v42h-3zM515 524h3v41h-3zM519 524h3v39h-3zM523 524h3v37h-3zM527 524h3v34h-3zM531 524h3v32h-3zM535 524h3v30h-3zM539 524h3v28h-3zM543 524h3v25h-3zM547 524h3v24h-3zM551 524h3v22h-3zM555 524h3v20h-3zM559 524h3v18h-3zM563 524h3v15h-3zM567 524h3v13h-3zM571 524h3v5h-3zM575 521h3v3h-3zM579 518h3v6h-3zM583 511h3v13h-3zM587 506h3v18h-3zM591 502h3v22h-3zM595 500h3v24h-3zM599 500h3v24h-3zM603 501h3v23h-3zM607 502h3v22h-3zM611 502h3v22h-3zM615 503h3v21h-3zM619 502h3v22h-3zM623 502h3v22h-3zM627 502h3v22h-3zM631 503h3v21h-3zM635 503h3v21h-3zM639 502h3v22h-3zM643 501h3v23h-3zM647 502h3v22h-3zM651 503h3v21h-3zM655 504h3v20h-3zM659 506h3v18h-3zM663 509h3v15h-3zM667 511h3v13h-3zM671 511h3v13h-3zM675 511h3v13h-3zM679 510h3v14h-3zM683 510h3v14h-3zM687 513h3v11h-3zM691 513h3v11h-3zM695 513h3v11h-3zM699 514h3v10h-3zM703 514h3v10h-3zM707 509h3v15h-3zM711 508h3v16h-3zM715 513h3v11h-3zM719 516h3v8h-3zM723 518h3v6h-3zM727 520h3v4h-3zM731 522h3v2h-3zM735 523h3v1h-3zM739 524h3v3h-3zM743 524h3v2h-3zM747 524h3v1h-3zM751 522h3v2h-3zM755 520h3v4h-3zM759 520h3v4h-3zM763 520h3v4h-3zM767 521h3v3h-3zM771 522h3v2h-3zM775 520h3v4h-3zM779 519h3v5h-3zM783 519h3v5h-3zM787 517h3v7h-3zM791 515h3v9h-3zM795 514h3v10h-3zM799 516h3v8h-3zM803 519h3v5h-3zM807 520h3v4h-3zM811 522h3v2h-3zM815 523h3v1h-3zM819 524h3v3h-3zM823 524h3v4h-3zM827 524h3v7h-3zM831 524h3v8h-3zM835 524h3v11h-3zM839 524h3v13h-3zM843 524h3v16h-3zM847 524h3v15h-3zM851 524h3v14h-3zM855 524h3v13h-3zM859 524h3v13h-3zM863 524h3v13h-3zM867 524h3v14h-3zM871 524h3v14h-3zM875 524h3v15h-3zM879 524h3v17h-3zM883 524h3v14h-3zM887 524h3v12h-3zM891 524h3v8h-3zM895 524h3v4h-3zM899 524h3v1h-3zM903 524h3v1h-3zM907 524h3v1h-3zM911 524h3v1h-3zM915 524h3v1h-3zM919 524h3v1h-3zM923 524h3v1h-3z"/>
<path fill="#ff0000" d="M4 545h1v1h-1zM5 545h1v1h-1zM6 545h1v1h-1zM7 546h1v1h-1zM8 546h1v1h-1zM9 546h1v1h-1zM10 547h1v1h-1zM11 547h1v1h-1zM12 547h1v1h-1zM13 548h1v1h-1zM14 548h1v1h-1zM15 549h1v1h-1zM16 549h1v1h-1zM17 550h1v1h-1zM18 550h1v1h-1zM19 551h1v1h-1zM20 551h1v1h-1zM21 552h1v1h-1zM22 552h1v1h-1zM23 553h1v1h-1zM24 553h1v1h-1zM25 553h1v1h-1zM26 554h1v1h-1zM27 554h1v1h-1zM28 554h1v1h-1zM29 555h1v1h-1zM30 555h1v1h-1zM31 555h1v1h-1zM32 556h1v1h-1zM33 556h1v1h-1zM34 556h1v1h-1zM35 557h1v1h-1zM36 557h1v1h-1zM37 557h1v1h-1zM38 557h1v1h-1zM39 557h1v1h-1zM40 557h1v1h-1zM41 558h1v1h-1zM42 558h1v1h-1zM43 558h1v1h-1zM44 558h1v1h-1zM45 558h1v1h-1zM46 558h1v1h-1zM47 557h1v1h-1zM48 557h1v1h-1zM49 557h1v1h-1zM50 556h1v1h-1zM51 556h1v1h-1zM52 555h1v1h-1zM53 555h1v1h-1zM54 554h1v1h-1zM55 554h1v1h-1zM56 553h1v1h-1zM57 553h1v1h-1zM58 552h1v1h-1zM59 552h1v1h-1zM60 551h1v1h-1zM61 551h1v1h-1zM62 550h1v1h-1zM63 550h1v1h-1zM64 549h1v1h-1zM65 549h1v1h-1zM66 548h1v1h-1zM67 548h1v1h-1zM68 548h1v1h-1zM69 547h1v1h-1zM70 547h1v1h-1zM71 546h1v1h-1zM72 546h1v1h-1zM73 545h1v1h-1zM74 545h1v1h-1zM75 544h1v1h-1zM76 544h1v1h-1zM77 543h1v1h-1zM78 543h1v1h-1zM79 542h1v1h-1zM80 542h1v1h-1zM81 541h1v1h-1zM82 541h1v1h-1zM83 540h1v1h-1zM84 540h1v1h-1zM85 539h1v1h-1zM86 539h1v1h-1zM87 538h1v1h-1zM88 538h1v1h-1zM89 538h1v1h-1zM90 538h1v1h-1zM91 537h1v1h-1zM92 537h1v1h-1zM93 537h1v1h-1zM94 537h1v1h-1zM95 537h1v1h-1zM96 537h1v1h-1zM97 536h1v1h-1zM98 536h1v1h-1zM99 536h1v1h-1zM100 536h1v1h-1zM101 536h1v1h-1zM102 536h1v1h-1zM103 536h1v1h-1zM104 536h1v1h-1zM105 535h1v1h-1zM106 535h1v1h-1zM107 535h1v1h-1zM108 535h1v1h-1zM109 535h1v1h-1zM110 535h1v1h-1zM111 535h1v1h-1zM112 535h1v1h-1zM113 535h1v1h-1zM114 535h1v1h-1zM115 536h1v1h-1zM116 536h1v1h-1zM117 536h1v1h-1zM118 536h1v1h-1zM119 536h1v1h-1zM120 536h1v1h-1zM121 536h1v1h-1zM122 536h1v1h-1zM123 536h1v1h-1zM124 536h1v1h-1zM125 537h1v1h-1zM126 537h1v1h-1zM127 537h1v1h-1zM128 537h1v1h-1zM129 537h1v1h-1zM130 537h1v1h-1zM131 538h1v1h-1zM132 538h1v1h-1zM133 538h1v1h-1zM134 538h1v1h-1zM135 538h1v1h-1zM136 539h1v1h-1zM137 539h1v1h-1zM138 539h1v1h-1zM139 539h1v1h-1zM140 540h1v1h-1zM141 540h1v1h-1zM142 540h1v1h-1zM143 540h1v1h-1zM144 541h1v1h-1zM145 541h1v1h-1zM146 541h1v1h-1zM147 542h1v1h-1zM148 542h1v1h-1zM149 543h1v1h-1zM150 543h1v1h-1zM151 544h1v1h-1zM152 544h1v1h-1zM153 544h1v1h-1zM154 545h1v1h-1zM155 545h1v1h-1zM156 545h1v1h-1zM157 546h1v1h-1zM158 546h1v1h-1zM159 546h1v1h-1zM160 546h1v1h-1zM161 547h1v1h-1zM162 547h1v1h-1zM163 547h1v1h-1zM164 547h1v1h-1zM165 547h1v1h-1zM166 547h1v1h-1zM167 547h1v1h-1zM168 547h1v1h-1zM169 546h1v1h-1zM170 546h1v1h-1zM171 546h1v1h-1zM172 546h1v1h-1zM173 545h1v1h-1zM174 545h1v1h-1zM175 545h1v1h-1zM176 544h1v1h-1zM177 543h1v1h-1zM178 543h1v1h-1zM179 542h1v1h-1zM180 542h1v1h-1zM181 541h1v1h-1zM182 541h1v1h-1zM183 540h1v1h-1zM184 539h1v1h-1zM185 538h1v1h-1zM186 538h1v1h-1zM187 537h1v1h-1zM188 536h1v1h-1zM189 535h1v1h-1zM190 534h1v1h-1zM191 534h1v1h-1zM192 533h1v1h-1zM193 532h1v1h-1zM194 531h1v1h-1zM195 531h1v1h-1zM196 530h1v1h-1zM197 529h1v1h-1zM198 529h1v1h-1zM199 528h1v1h-1zM200 528h1v1h-1zM201 527h1v1h-1zM202 526h1v1h-1zM203 526h1v1h-1zM204 526h1v1h-1zM205 525h1v1h-1zM206 524h1v1h-1zM207 524h1v1h-1zM208 524h1v1h-1zM209 523h1v1h-1zM210 523h1v1h-1zM211 523h1v1h-1zM212 522h1v1h-1zM213 522h1v1h-1zM214 522h1v1h-1zM215 522h1v1h-1zM216 521h1v1h-1zM217 520h1v1h-1zM218 519h1v1h-1zM219 519h1v1h-1zM220 518h1v1h-1zM221 517h1v1h-1zM222 517h1v1h-1zM223 516h1v1h-1zM224 515h1v1h-1zM225 515h1v1h-1zM226 514h1v1h-1zM227 514h1v1h-1zM228 513h1v1h-1zM229 512h1v1h-1zM230 512h1v1h-1zM231 511h1v1h-1zM232 510h1v1h-1zM233 510h1v1h-1zM234 510h1v1h-1zM235 509h1v1h-1zM236 508h1v1h-1zM237 508h1v1h-1zM238 508h1v1h-1zM239 507h1v1h-1zM240 507h1v1h-1zM241 506h1v1h-1zM242 506h1v1h-1zM243 506h1v1h-1zM244 505h1v1h-1zM245 505h1v1h-1zM246 504h1v1h-1zM247 504h1v1h-1zM248 504h1v1h-1zM249 504h1v1h-1zM250 504h1v1h-1zM251 504h1v1h-1zM252 504h1v1h-1zM253 504h1v1h-1zM254 503h1v1h-1zM255 503h1v1h-1zM256 504h1v1h-1zM257 504h1v1h-1zM258 504h1v1h-1zM259 504h1v1h-1zM260 504h1v1h-1zM261 505h1v1h-1zM262 505h1v1h-1zM263 505h1v1h-1zM264 505h1v1h-1zM265 506h1v1h-1zM266 506h1v1h-1zM267 506h1v1h-1zM268 506h1v1h-1zM269 507h1v1h-1zM270 507h1v1h-1zM271 507h1v1h-1zM272 508h1v1h-1zM273 508h1v1h-1zM274 508h1v1h-1zM275 508h1v1h-1zM276 508h1v1h-1zM277 508h1v1h-1zM278 508h1v1h-1zM279 508h1v1h-1zM280 509h1v1h-1zM281 509h1v1h-1zM282 509h1v1h-1zM283 508h1v1h-1zM284 508h1v1h-1zM285 508h1v1h-1zM286 508h1v1h-1zM287 508h1v1h-1zM288 507h1v1h-1zM289 507h1v1h-1zM290 507h1v1h-1zM291 507h1v1h-1zM292 506h1v1h-1zM293 506h1v1h-1zM294 506h1v1h-1zM295 505h1v1h-1zM296 505h1v1h-1zM297 505h1v1h-1zM298 505h1v1h-1zM299 504h1v1h-1zM300 504h1v1h-1zM301 503h1v1h-1zM302 503h1v1h-1zM303 503h1v1h-1zM304 502h1v1h-1zM305 502h1v1h-1zM306 501h1v1h-1zM307 501h1v1h-1zM308 500h1v1h-1zM309 500h1v1h-1zM310 499h1v1h-1zM311 499h1v1h-1zM312 498h1v1h-1zM313 498h1v1h-1zM314 497h1v1h-1zM315 497h1v1h-1zM316 496h1v1h-1zM317 496h1v1h-1zM318 495h1v1h-1zM319 495h1v1h-1zM320 495h1v1h-1zM321 495h1v1h-1zM322 494h1v1h-1zM323 494h1v1h-1zM324 494h1v1h-1zM325 494h1v1h-1zM326 494h1v1h-1zM327 494h1v1h-1zM328 494h1v1h-1zM329 494h1v1h-1zM330 494h1v1h-1zM331 494h1v1h-1zM332 494h1v1h-1zM333 494h1v1h-1zM334 494h1v1h-1zM335 495h1v1h-1zM336 495h1v1h-1zM337 495h1v1h-1zM338 495h1v1h-1zM339 495h1v1h-1zM340 496h1v1h-1zM341 496h1v1h-1zM342 496h1v1h-1zM343 496h1v1h-1zM344 497h1v1h-1zM345 498h1v1h-1zM346 498h1v1h-1zM347 498h1v1h-1zM348 499h1v1h-1zM349 500h1v1h-1zM350 500h1v1h-1zM351 501h1v1h-1zM352 501h1v1h-1zM353 502h1v1h-1zM354 503h1v1h-1zM355 504h1v1h-1zM356 504h1v1h-1zM357 505h1v1h-1zM358 506h1v1h-1zM359 506h1v1h-1zM360 507h1v1h-1zM361 507h1v1h-1zM362 508h1v1h-1zM363 508h1v1h-1zM364 509h1v1h-1zM365 509h1v1h-1zM366 510h1v1h-1zM367 510h1v1h-1zM368 511h1v1h-1zM369 512h1v1h-1zM370 512h1v1h-1zM371 513h1v1h-1zM372 514h1v1h-1zM373 515h1v1h-1zM374 515h1v1h-1zM375 516h1v1h-1zM376 517h1v1h-1zM377 518h1v1h-1zM378 519h1v1h-1zM379 520h1v1h-1zM380 521h1v1h-1zM381 522h1v1h-1zM382 523h1v1h-1zM383 524h1v1h-1zM384 525h1v1h-1zM385 526h1v1h-1zM386 526h1v1h-1zM387 527h1v1h-1zM388 528h1v1h-1zM389 529h1v1h-1zM390 530h1v1h-1zM391 531h1v1h-1zM392 531h1v1h-1zM393 532h1v1h-1zM394 533h1v1h-1zM395 534h1v1h-1zM396 535h1v1h-1zM397 536h1v1h-1zM398 536h1v1h-1zM399 537h1v1h-1zM400 538h1v1h-1zM401 538h1v1h-1zM402 539h1v1h-1zM403 540h1v1h-1zM404 540h1v1h-1zM405 541h1v1h-1zM406 542h1v1h-1zM407 542h1v1h-1zM408 542h1v1h-1zM409 543h1v1h-1zM410 543h1v1h-1zM411 544h1v1h-1zM412 544h1v1h-1zM413 545h1v1h-1zM414 545h1v1h-1zM415 545h1v1h-1zM416 545h1v1h-1zM417 546h1v1h-1zM418 546h1v1h-1zM419 546h1v1h-1zM420 546h1v1h-1zM421 547h1v1h-1zM422 547h1v1h-1zM423 547h1v1h-1zM424 547h1v1h-1zM425 547h1v1h-1zM426 547h1v1h-1zM427 547h1v1h-1zM428 547h1v1h-1zM429 547h1v1h-1zM430 548h1v1h-1zM431 548h1v1h-1zM432 548h1v1h-1zM433 548h1v1h-1zM434 549h1v1h-1zM435 549h1v1h-1zM436 549h1v1h-1zM437 549h1v1h-1zM438 550h1v1h-1zM439 550h1v1h-1zM440 550h1v1h-1zM441 551h1v1h-1zM442 551h1v1h-1zM443 552h1v1h-1zM444 552h1v1h-1zM445 552h1v1h-1zM446 553h1v1h-1zM447 553h1v1h-1zM448 553h1v1h-1zM449 553h1v1h-1zM450 553h1v1h-1zM451 553h1v1h-1zM452 553h1v1h-1zM453 553h1v1h-1zM454 554h1v1h-1zM455 554h1v1h-1zM456 554h1v1h-1zM457 554h1v1h-1zM458 554h1v1h-1zM459 555h1v1h-1zM460 555h1v1h-1zM461 555h1v1h-1zM462 555h1v1h-1zM463 555h1v1h-1zM464 555h1v1h-1zM465 555h1v1h-1zM466 555h1v1h-1zM467 555h1v1h-1zM468 555h1v1h-1zM469 555h1v1h-1zM470 555h1v1h-1zM471 555h1v1h-1zM472 555h1v1h-1zM473 555h1v1h-1zM474 554h1v1h-1zM475 554h1v1h-1zM476 554h1v1h-1zM477 554h1v1h-1zM478 553h1v1h-1zM479 553h1v1h-1zM480 553h1v1h-1zM481 552h1v1h-1zM482 552h1v1h-1zM483 552h1v1h-1zM484 552h1v1h-1zM485 552h1v1h-1zM486 551h1v1h-1zM487 551h1v1h-1zM488 551h1v1h-1zM489 551h1v1h-1zM490 551h1v1h-1zM491 551h1v1h-1zM492 551h1v1h-1zM493 551h1v1h-1zM494 551h1v1h-1zM495 551h1v1h-1zM496 551h1v1h-1zM497 551h1v1h-1zM498 551h1v1h-1zM499 551h1v1h-1zM500 551h1v1h-1zM501 552h1v1h-1zM502 552h1v1h-1zM503 552h1v1h-1zM504 552h1v1h-1zM505 552h1v1h-1zM506 553h1v1h-1zM507 553h1v1h-1zM508 553h1v1h-1zM509 554h1v1h-1zM510 554h1v1h-1zM511 554h1v1h-1zM512 555h1v1h-1zM513 555h1v1h-1zM514 556h1v1h-1zM515 556h1v1h-1zM516 556h1v1h-1zM517 557h1v1h-1zM518 557h1v1h-1zM519 558h1v1h-1zM520 558h1v1h-1zM521 558h1v1h-1zM522 559h1v1h-1zM523 560h1v1h-1zM524 560h1v1h-1zM525 560h1v1h-1zM526 560h1v1h-1zM527 560h1v1h-1zM528 560h1v1h-1zM529 560h1v1h-1zM530 560h1v1h-1zM531 560h1v1h-1zM532 560h1v1h-1zM533 560h1v1h-1zM534 560h1v1h-1zM535 560h1v1h-1zM536 560h1v1h-1zM537 560h1v1h-1zM538 560h1v1h-1zM539 559h1v1h-1zM540 559h1v1h-1zM541 559h1v1h-1zM542 559h1v1h-1zM543 558h1v1h-1zM544 558h1v1h-1zM545 557h1v1h-1zM546 557h1v1h-1zM547 556h1v1h-1zM548 555h1v1h-1zM549 555h1v1h-1zM550 554h1v1h-1zM551 554h1v1h-1zM552 553h1v1h-1zM553 553h1v1h-1zM554 552h1v1h-1zM555 551h1v1h-1zM556 551h1v1h-1zM557 550h1v1h-1zM558 550h1v1h-1zM559 549h1v1h-1zM560 549h1v1h-1zM561 548h1v1h-1zM562 548h1v1h-1zM563 547h1v1h-1zM564 547h1v1h-1zM565 546h1v1h-1zM566 546h1v1h-1zM567 545h1v1h-1zM568 545h1v1h-1zM569 544h1v1h-1zM570 543h1v1h-1zM571 543h1v1h-1zM572 542h1v1h-1zM573 542h1v1h-1zM574 541h1v1h-1zM575 540h1v1h-1zM576 540h1v1h-1zM577 539h1v1h-1zM578 538h1v1h-1zM579 537h1v1h-1zM580 536h1v1h-1zM581 536h1v1h-1zM582 535h1v1h-1zM583 534h1v1h-1zM584 532h1v2h-1zM585 531h1v1h-1zM586 530h1v1h-1zM587 528h1v2h-1zM588 527h1v1h-1zM589 526h1v1h-1zM590 524h1v2h-1zM591 523h1v1h-1zM592 522h1v1h-1zM593 521h1v1h-1zM594 520h1v1h-1zM595 519h1v1h-1zM596 517h1v2h-1zM597 516h1v1h-1zM598 515h1v1h-1zM599 514h1v1h-1zM600 513h1v1h-1zM601 512h1v1h-1zM602 511h1v1h-1zM603 511h1v1h-1zM604 510h1v1h-1zM605 509h1v1h-1zM606 508h1v1h-1zM607 507h1v1h-1zM608 507h1v1h-1zM609 506h1v1h-1zM610 506h1v1h-1zM611 505h1v1h-1zM612 505h1v1h-1zM613 504h1v1h-1zM614 504h1v1h-1zM615 503h1v1h-1zM616 503h1v1h-1zM617 503h1v1h-1zM618 502h1v1h-1zM619 502h1v1h-1zM620 502h1v1h-1zM621 502h1v1h-1zM622 502h1v1h-1zM623 502h1v1h-1zM624 502h1v1h-1zM625 502h1v1h-1zM626 502h1v1h-1zM627 502h1v1h-1zM628 502h1v1h-1zM629 502h1v1h-1zM630 502h1v1h-1zM631 502h1v1h-1zM632 502h1v1h-1zM633 502h1v1h-1zM634 502h1v1h-1zM635 502h1v1h-1zM636 502h1v1h-1zM637 502h1v1h-1zM638 502h1v1h-1zM639 502h1v1h-1zM640 502h1v1h-1zM641 502h1v1h-1zM642 502h1v1h-1zM643 502h1v1h-1zM644 502h1v1h-1zM645 502h1v1h-1zM646 502h1v1h-1zM647 502h1v1h-1zM648 502h1v1h-1zM649 502h1v1h-1zM650 502h1v1h-1zM651 502h1v1h-1zM652 502h1v1h-1zM653 502h1v1h-1zM654 502h1v1h-1zM655 502h1v1h-1zM656 502h1v1h-1zM657 502h1v1h-1zM658 503h1v1h-1zM659 503h1v1h-1zM660 503h1v1h-1zM661 503h1v1h-1zM662 503h1v1h-1zM663 504h1v1h-1zM664 504h1v1h-1zM665 504h1v1h-1zM666 504h1v1h-1zM667 504h1v1h-1zM668 504h1v1h-1zM669 505h1v1h-1zM670 505h1v1h-1zM671 505h1v1h-1zM672 505h1v1h-1zM673 505h1v1h-1zM674 505h1v1h-1zM675 505h1v1h-1zM676 506h1v1h-1zM677 506h1v1h-1zM678 506h1v1h-1zM679 506h1v1h-1zM680 507h1v1h-1zM681 507h1v1h-1zM682 507h1v1h-1zM683 507h1v1h-1zM684 507h1v1h-1zM685 508h1v1h-1zM686 508h1v1h-1zM687 508h1v1h-1zM688 508h1v1h-1zM689 509h1v1h-1zM690 509h1v1h-1zM691 509h1v1h-1zM692 510h1v1h-1zM693 510h1v1h-1zM694 510h1v1h-1zM695 510h1v1h-1zM696 511h1v1h-1zM697 511h1v1h-1zM698 511h1v1h-1zM699 512h1v1h-1zM700 512h1v1h-1zM701 512h1v1h-1zM702 512h1v1h-1zM703 512h1v1h-1zM704 512h1v1h-1zM705 512h1v1h-1zM706 512h1v1h-1zM707 512h1v1h-1zM708 512h1v1h-1zM709 512h1v1h-1zM710 512h1v1h-1zM711 512h1v1h-1zM712 512h1v1h-1zM713 512h1v1h-1zM714 512h1v1h-1zM715 513h1v1h-1zM716 513h1v1h-1zM717 513h1v1h-1zM718 513h1v1h-1zM719 513h1v1h-1zM720 513h1v1h-1zM721 513h1v1h-1zM722 513h1v1h-1zM723 513h1v1h-1zM724 514h1v1h-1zM725 514h1v1h-1zM726 514h1v1h-1zM727 514h1v1h-1zM728 514h1v1h-1zM729 514h1v1h-1zM730 514h1v1h-1zM731 515h1v1h-1zM732 515h1v1h-1zM733 515h1v1h-1zM734 515h1v1h-1zM735 516h1v1h-1zM736 516h1v1h-1zM737 516h1v1h-1zM738 517h1v1h-1zM739 517h1v1h-1zM740 517h1v1h-1zM741 518h1v1h-1zM742 518h1v1h-1zM743 518h1v1h-1zM744 519h1v1h-1zM745 519h1v1h-1zM746 519h1v1h-1zM747 520h1v1h-1zM748 520h1v1h-1zM749 521h1v1h-1zM750 521h1v1h-1zM751 521h1v1h-1zM752 521h1v1h-1zM753 521h1v1h-1zM754 522h1v1h-1zM755 522h1v1h-1zM756 522h1v1h-1zM757 522h1v1h-1zM758 522h1v1h-1zM759 522h1v1h-1zM760 522h1v1h-1zM761 522h1v1h-1zM762 522h1v1h-1zM763 522h1v1h-1zM764 522h1v1h-1zM765 522h1v1h-1zM766 522h1v1h-1zM767 522h1v1h-1zM768 522h1v1h-1zM769 522h1v1h-1zM770 522h1v1h-1zM771 522h1v1h-1zM772 522h1v1h-1zM773 522h1v1h-1zM774 522h1v1h-1zM775 522h1v1h-1zM776 522h1v1h-1zM777 521h1v1h-1zM778 521h1v1h-1zM779 521h1v1h-1zM780 521h1v1h-1zM781 521h1v1h-1zM782 521h1v1h-1zM783 521h1v1h-1zM784 521h1v1h-1zM785 521h1v1h-1zM786 521h1v1h-1zM787 521h1v1h-1zM788 520h1v1h-1zM789 520h1v1h-1zM790 520h1v1h-1zM791 520h1v1h-1zM792 520h1v1h-1zM793 520h1v1h-1zM794 520h1v1h-1zM795 519h1v1h-1zM796 519h1v1h-1zM797 519h1v1h-1zM798 519h1v1h-1zM799 518h1v1h-1zM800 518h1v1h-1zM801 518h1v1h-1zM802 518h1v1h-1zM803 518h1v1h-1zM804 518h1v1h-1zM805 518h1v1h-1zM806 518h1v1h-1zM807 518h1v1h-1zM808 518h1v1h-1zM809 518h1v1h-1zM810 518h1v1h-1zM811 518h1v1h-1zM812 518h1v1h-1zM813 518h1v1h-1zM814 518h1v1h-1zM815 518h1v1h-1zM816 518h1v1h-1zM817 518h1v1h-1zM818 518h1v1h-1zM819 519h1v1h-1zM820 519h1v1h-1zM821 519h1v1h-1zM822 519h1v1h-1zM823 520h1v1h-1zM824 520h1v1h-1zM825 520h1v1h-1zM826 521h1v1h-1zM827 521h1v1h-1zM828 522h1v1h-1zM829 522h1v1h-1zM830 523h1v1h-1zM831 523h1v1h-1zM832 524h1v1h-1zM833 524h1v1h-1zM834 525h1v1h-1zM835 525h1v1h-1zM836 526h1v1h-1zM837 526h1v1h-1zM838 527h1v1h-1zM839 527h1v1h-1zM840 527h1v1h-1zM841 528h1v1h-1zM842 528h1v1h-1zM843 529h1v1h-1zM844 529h1v1h-1zM845 530h1v1h-1zM846 530h1v1h-1zM847 530h1v1h-1zM848 531h1v1h-1zM849 531h1v1h-1zM850 532h1v1h-1zM851 532h1v1h-1zM852 532h1v1h-1zM853 533h1v1h-1zM854 533h1v1h-1zM855 534h1v1h-1zM856 534h1v1h-1zM857 534h1v1h-1zM858 534h1v1h-1zM859 535h1v1h-1zM860 535h1v1h-1zM861 535h1v1h-1zM862 535h1v1h-1zM863 535h1v1h-1zM864 536h1v1h-1zM865 536h1v1h-1zM866 536h1v1h-1zM867 536h1v1h-1zM868 536h1v1h-1zM869 536h1v1h-1zM870 536h1v1h-1zM871 536h1v1h-1zM872 536h1v1h-1zM873 536h1v1h-1zM874 537h1v1h-1zM875 537h1v1h-1zM876 537h1v1h-1zM877 537h1v1h-1zM878 537h1v1h-1zM879 537h1v1h-1zM880 537h1v1h-1zM881 537h1v1h-1zM882 537h1v1h-1zM883 537h1v1h-1zM884 537h1v1h-1zM885 537h1v1h-1zM886 537h1v1h-1zM887 537h1v1h-1zM888 537h1v1h-1zM889 537h1v1h-1zM890 536h1v1h-1zM891 536h1v1h-1zM892 536h1v1h-1zM893 536h1v1h-1zM894 536h1v1h-1zM895 536h1v1h-1zM896 535h1v1h-1zM897 535h1v1h-1zM898 535h1v1h-1zM899 534h1v1h-1zM900 534h1v1h-1zM901 534h1v1h-1zM902 533h1v1h-1zM903 533h1v1h-1zM904 532h1v1h-1zM905 532h1v1h-1zM906 532h1v1h-1zM907 531h1v1h-1zM908 531h1v1h-1zM909 530h1v1h-1zM910 530h1v1h-1zM911 529h1v1h-1zM912 529h1v1h-1zM913 529h1v1h-1zM914 528h1v1h-1zM915 528h1v1h-1zM916 527h1v1h-1zM917 527h1v1h-1zM918 527h1v1h-1zM919 526h1v1h-1zM920 526h1v1h-1zM921 525h1v1h-1zM922 525h1v1h-1zM923 525h1v1h-1zM924 524h1v1h-1zM925 524h1v1h-1z"/>
<path stroke="#c0c0c0" stroke-width="1" stroke-dasharray="3,3" fill="none" d="M4 598.5H1166M4 632.5H1166"/>
<path fill="#1e90ff" d="M4 624h1v2h-1zM5 626h1v3h-1zM6 629h1v2h-1zM7 631h1v2h-1zM8 633h1v1h-1zM9 634h1v1h-1zM10 635h1v1h-1zM11 636h1v1h-1zM12 636h1v1h-1zM13 635h1v1h-1zM14 633h1v2h-1zM15 632h1v1h-1zM16 631h1v1h-1zM17 629h1v2h-1zM18 627h1v2h-1zM19 626h1v1h-1zM20 625h1v1h-1zM21 626h1v1h-1zM22 626h1v1h-1zM23 627h1v1h-1zM24 628h1v1h-1zM25 627h1v1h-1zM26 626h1v1h-1zM27 626h1v1h-1zM28 625h1v1h-1zM29 624h1v1h-1zM30 623h1v1h-1zM31 622h1v1h-1zM32 621h1v1h-1zM33 622h1v1h-1zM34 623h1v1h-1zM35 624h1v1h-1zM36 625h1v1h-1zM37 625h1v1h-1zM38 624h1v1h-1zM39 624h1v1h-1zM40 624h1v1h-1zM41 623h1v1h-1zM42 622h1v1h-1zM43 622h1v1h-1zM44 621h1v1h-1zM45 620h1v1h-1zM46 620h1v1h-1zM47 619h1v1h-1zM48 618h1v1h-1zM49 618h1v1h-1zM50 618h1v1h-1zM51 618h1v1h-1zM52 618h1v1h-1zM53 617h1v1h-1zM54 616h1v1h-1zM55 615h1v1h-1zM56 614h1v2h-1zM57 616h1v1h-1zM58 617h1v1h-1zM59 618h1v1h-1zM60 619h1v1h-1zM61 620h1v1h-1zM62 621h1v1h-1zM63 622h1v1h-1zM64 623h1v1h-1zM65 622h1v1h-1zM66 622h1v1h-1zM67 622h1v1h-1zM68 620h1v2h-1zM69 619h1v1h-1zM70 617h1v2h-1zM71 615h1v2h-1zM72 614h1v1h-1zM73 614h1v1h-1zM74 614h1v1h-1zM75 613h1v1h-1zM76 613h1v1h-1zM77 613h1v1h-1zM78 614h1v1h-1zM79 614h1v1h-1zM80 614h1v2h-1zM81 616h1v1h-1zM82 617h1v1h-1zM83 618h1v2h-1zM84 619h1v2h-1zM85 618h1v1h-1zM86 617h1v1h-1zM87 615h1v2h-1zM88 614h1v2h-1zM89 616h1v1h-1zM90 616h1v2h-1zM91 618h1v1h-1zM92 618h1v2h-1zM93 620h1v1h-1zM94 621h1v1h-1zM95 622h1v2h-1zM96 624h1v1h-1zM97 623h1v1h-1zM98 623h1v1h-1zM99 623h1v1h-1zM100 622h1v1h-1zM101 620h1v2h-1zM102 619h1v1h-1zM103 617h1v2h-1zM104 616h1v1h-1zM105 617h1v1h-1zM106 618h1v1h-1zM107 618h1v1h-1zM108 619h1v1h-1zM109 619h1v1h-1zM110 619h1v1h-1zM111 619h1v1h-1zM112 619h1v1h-1zM113 618h1v1h-1zM114 618h1v1h-1zM115 617h1v1h-1zM116 616h1v1h-1zM117 617h1v1h-1zM118 618h1v1h-1zM119 618h1v1h-1zM120 619h1v1h-1zM121 619h1v1h-1zM122 619h1v1h-1zM123 619h1v1h-1zM124 619h1v1h-1zM125 620h1v1h-1zM126 621h1v1h-1zM127 622h1v1h-1zM128 622h1v1h-1zM129 623h1v1h-1zM130 624h1v1h-1zM131 625h1v1h-1zM132 626h1v1h-1zM133 625h1v1h-1zM134 625h1v1h-1zM135 624h1v1h-1zM136 624h1v1h-1zM137 624h1v1h-1zM138 625h1v1h-1zM139 625h1v1h-1zM140 626h1v1h-1zM141 626h1v1h-1zM142 625h1v1h-1zM143 625h1v1h-1zM144 625h1v1h-1zM145 625h1v1h-1zM146 625h1v1h-1zM147 625h1v1h-1zM148 625h1v1h-1zM149 626h1v1h-1zM150 626h1v1h-1zM151 627h1v1h-1zM152 628h1v1h-1zM153 626h1v2h-1zM154 625h1v1h-1zM155 624h1v1h-1zM156 622h1v2h-1zM157 621h1v1h-1zM158 619h1v2h-1zM159 617h1v2h-1zM160 616h1v1h-1zM161 615h1v1h-1zM162 613h1v2h-1zM163 612h1v1h-1zM164 611h1v1h-1zM165 612h1v1h-1zM166 612h1v1h-1zM167 613h1v1h-1zM168 614h1v1h-1zM169 614h1v1h-1zM170 613h1v1h-1zM171 613h1v1h-1zM172 613h1v1h-1zM173 612h1v1h-1zM174 612h1v1h-1zM175 611h1v1h-1zM176 610h1v1h-1zM177 611h1v1h-1zM178 611h1v1h-1zM179 612h1v1h-1zM180 613h1v1h-1zM181 613h1v1h-1zM182 614h1v1h-1zM183 614h1v1h-1zM184 615h1v1h-1zM185 614h1v1h-1zM186 614h1v1h-1zM187 614h1v1h-1zM188 613h1v1h-1zM189 612h1v1h-1zM190 612h1v1h-1zM191 611h1v1h-1zM192 610h1v1h-1zM193 610h1v1h-1zM194 609h1v1h-1zM195 608h1v1h-1zM196 608h1v1h-1zM197 609h1v1h-1zM198 610h1v1h-1zM199 611h1v2h-1zM200 613h1v1h-1zM201 612h1v1h-1zM202 612h1v1h-1zM203 611h1v1h-1zM204 610h1v1h-1zM205 611h1v1h-1zM206 612h1v1h-1zM207 612h1v1h-1zM208 613h1v1h-1zM209 613h1v1h-1zM210 612h1v1h-1zM211 612h1v1h-1zM212 610h1v3h-1zM213 608h1v2h-1zM214 606h1v2h-1zM215 603h1v3h-1zM216 602h1v1h-1zM217 603h1v1h-1zM218 603h1v1h-1zM219 603h1v1h-1zM220 603h1v1h-1zM221 602h1v1h-1zM222 601h1v1h-1zM223 599h1v2h-1zM224 598h1v2h-1zM225 600h1v2h-1zM226 602h1v2h-1zM227 604h1v2h-1zM228 606h1v1h-1zM229 607h1v1h-1zM230 607h1v1h-1zM231 608h1v1h-1zM232 609h1v1h-1zM233 610h1v2h-1zM234 612h1v1h-1zM235 613h1v1h-1zM236 614h1v1h-1zM237 614h1v1h-1zM238 613h1v1h-1zM239 612h1v1h-1zM240 611h1v1h-1zM241 611h1v1h-1zM242 611h1v1h-1zM243 612h1v1h-1zM244 612h1v1h-1zM245 612h1v1h-1zM246 611h1v1h-1zM247 611h1v1h-1zM248 611h1v1h-1zM249 611h1v1h-1zM250 611h1v1h-1zM251 611h1v1h-1zM252 611h1v1h-1zM253 611h1v1h-1zM254 610h1v1h-1zM255 610h1v1h-1zM256 610h1v1h-1zM257 610h1v1h-1zM258 610h1v1h-1zM259 610h1v1h-1zM260 610h1v1h-1zM261 610h1v1h-1zM262 610h1v1h-1zM263 609h1v1h-1zM264 609h1v1h-1zM265 609h1v1h-1zM266 610h1v1h-1zM267 610h1v1h-1zM268 610h1v1h-1zM269 611h1v1h-1zM270 611h1v1h-1zM271 611h1v1h-1zM272 612h1v1h-1zM273 611h1v1h-1zM274 610h1v1h-1zM275 610h1v1h-1zM276 609h1v1h-1zM277 608h1v1h-1zM278 607h1v1h-1zM279 607h1v1h-1zM280 606h1v1h-1zM281 604h1v2h-1zM282 603h1v1h-1zM283 602h1v1h-1zM284 601h1v1h-1zM285 602h1v1h-1zM286 602h1v1h-1zM287 603h1v1h-1zM288 604h1v1h-1zM289 604h1v1h-1zM290 604h1v1h-1zM291 604h1v1h-1zM292 603h1v2h-1zM293 602h1v1h-1zM294 601h1v1h-1zM295 599h1v2h-1zM296 598h1v1h-1zM297 598h1v1h-1zM298 598h1v1h-1zM299 598h1v1h-1zM300 598h1v1h-1zM301 599h1v1h-1zM302 600h1v1h-1zM303 601h1v1h-1zM304 602h1v1h-1zM305 602h1v1h-1zM306 601h1v1h-1zM307 601h1v1h-1zM308 600h1v1h-1zM309 601h1v1h-1zM310 601h1v1h-1zM311 601h1v1h-1zM312 601h1v1h-1zM313 601h1v1h-1zM314 601h1v1h-1zM315 601h1v1h-1zM316 601h1v1h-1zM317 602h1v2h-1zM318 604h1v2h-1zM319 606h1v1h-1zM320 607h1v1h-1zM321 608h1v2h-1zM322 610h1v1h-1zM323 611h1v1h-1zM324 612h1v1h-1zM325 613h1v1h-1zM326 612h1v1h-1zM327 612h1v1h-1zM328 611h1v1h-1zM329 610h1v1h-1zM330 609h1v1h-1zM331 608h1v1h-1zM332 608h1v1h-1zM333 607h1v1h-1zM334 607h1v1h-1zM335 608h1v1h-1zM336 608h1v1h-1zM337 608h1v1h-1zM338 608h1v1h-1zM339 608h1v1h-1zM340 608h1v1h-1zM341 608h1v1h-1zM342 609h1v1h-1zM343 610h1v1h-1zM344 610h1v1h-1zM345 611h1v1h-1zM346 611h1v1h-1zM347 612h1v1h-1zM348 613h1v1h-1zM349 614h1v1h-1zM350 615h1v2h-1zM351 617h1v1h-1zM352 618h1v1h-1zM353 619h1v1h-1zM354 619h1v1h-1zM355 619h1v1h-1zM356 619h1v1h-1zM357 619h1v1h-1zM358 619h1v1h-1zM359 620h1v1h-1zM360 620h1v1h-1zM361 620h1v1h-1zM362 619h1v1h-1zM363 619h1v1h-1zM364 619h1v1h-1zM365 620h1v2h-1zM366 622h1v1h-1zM367 623h1v1h-1zM368 624h1v1h-1zM369 625h1v1h-1zM370 626h1v1h-1zM371 626h1v1h-1zM372 627h1v1h-1zM373 628h1v1h-1zM374 628h1v1h-1zM375 628h1v1h-1zM376 629h1v1h-1zM377 629h1v1h-1zM378 629h1v1h-1zM379 629h1v1h-1zM380 629h1v1h-1zM381 630h1v1h-1zM382 630h1v1h-1zM383 630h1v1h-1zM384 630h1v1h-1zM385 630h1v1h-1zM386 630h1v1h-1zM387 630h1v1h-1zM388 630h1v1h-1zM389 630h1v1h-1zM390 631h1v1h-1zM391 632h1v1h-1zM392 633h1v1h-1zM393 632h1v1h-1zM394 632h1v1h-1zM395 632h1v1h-1zM396 631h1v1h-1zM397 631h1v1h-1zM398 631h1v1h-1zM399 632h1v1h-1zM400 632h1v1h-1zM401 632h1v1h-1zM402 633h1v1h-1zM403 633h1v1h-1zM404 634h1v1h-1zM405 633h1v1h-1zM406 633h1v1h-1zM407 632h1v1h-1zM408 632h1v1h-1zM409 632h1v1h-1zM410 631h1v1h-1zM411 631h1v1h-1zM412 630h1v1h-1zM413 630h1v1h-1zM414 630h1v1h-1zM415 630h1v1h-1zM416 629h1v2h-1zM417 627h1v2h-1zM418 625h1v2h-1zM419 623h1v2h-1zM420 622h1v1h-1zM421 622h1v1h-1zM422 622h1v1h-1zM423 622h1v1h-1zM424 622h1v2h-1zM425 624h1v2h-1zM426 626h1v2h-1zM427 628h1v2h-1zM428 630h1v2h-1zM429 632h1v2h-1zM430 634h1v2h-1zM431 636h1v2h-1zM432 638h1v1h-1zM433 638h1v1h-1zM434 638h1v1h-1zM435 638h1v1h-1zM436 638h1v1h-1zM437 639h1v1h-1zM438 639h1v1h-1zM439 639h1v1h-1zM440 638h1v2h-1zM441 636h1v2h-1zM442 634h1v2h-1zM443 632h1v2h-1zM444 629h1v3h-1zM445 627h1v2h-1zM446 624h1v3h-1zM447 621h1v3h-1zM448 620h1v1h-1zM449 620h1v1h-1zM450 621h1v1h-1zM451 622h1v1h-1zM452 622h1v1h-1zM453 622h1v1h-1zM454 623h1v1h-1zM455 624h1v1h-1zM456 624h1v1h-1zM457 624h1v1h-1zM458 624h1v1h-1zM459 624h1v1h-1zM460 624h1v1h-1zM461 624h1v1h-1zM462 623h1v1h-1zM463 623h1v1h-1zM464 622h1v2h-1zM465 624h1v1h-1zM466 625h1v1h-1zM467 626h1v1h-1zM468 627h1v1h-1zM469 626h1v1h-1zM470 626h1v1h-1zM471 626h1v1h-1zM472 625h1v1h-1zM473 625h1v1h-1zM474 624h1v1h-1zM475 624h1v1h-1zM476 624h1v1h-1zM477 624h1v1h-1zM478 623h1v1h-1zM479 622h1v1h-1zM480 622h1v1h-1zM481 622h1v1h-1zM482 622h1v1h-1zM483 622h1v1h-1zM484 622h1v1h-1zM485 623h1v2h-1zM486 625h1v1h-1zM487 626h1v2h-1zM488 628h1v1h-1zM489 628h1v1h-1zM490 628h1v1h-1zM491 629h1v1h-1zM492 629h1v1h-1zM493 630h1v1h-1zM494 630h1v1h-1zM495 631h1v1h-1zM496 632h1v1h-1zM497 633h1v1h-1zM498 633h1v1h-1zM499 634h1v1h-1zM500 634h1v1h-1zM501 635h1v1h-1zM502 635h1v1h-1zM503 636h1v1h-1zM504 636h1v1h-1zM505 636h1v1h-1zM506 636h1v1h-1zM507 637h1v1h-1zM508 637h1v1h-1zM509 636h1v1h-1zM510 635h1v1h-1zM511 635h1v1h-1zM512 634h1v1h-1zM513 632h1v2h-1zM514 631h1v1h-1zM515 629h1v2h-1zM516 628h1v1h-1zM517 629h1v1h-1zM518 629h1v1h-1zM519 629h1v1h-1zM520 628h1v3h-1zM521 626h1v2h-1zM522 624h1v2h-1zM523 622h1v2h-1zM524 621h1v1h-1zM525 622h1v1h-1zM526 622h1v1h-1zM527 622h1v1h-1zM528 623h1v1h-1zM529 623h1v1h-1zM530 623h1v1h-1zM531 624h1v1h-1zM532 624h1v1h-1zM533 624h1v1h-1zM534 623h1v1h-1zM535 623h1v1h-1zM536 623h1v1h-1zM537 622h1v1h-1zM538 621h1v1h-1zM539 620h1v1h-1zM540 619h1v1h-1zM541 620h1v1h-1zM542 621h1v1h-1zM543 622h1v1h-1zM544 623h1v1h-1zM545 623h1v1h-1zM546 623h1v1h-1zM547 623h1v1h-1zM548 622h1v1h-1zM549 621h1v1h-1zM550 620h1v1h-1zM551 619h1v1h-1zM552 618h1v1h-1zM553 618h1v1h-1zM554 619h1v1h-1zM555 620h1v1h-1zM556 620h1v1h-1zM557 619h1v1h-1zM558 617h1v2h-1zM559 616h1v1h-1zM560 615h1v1h-1zM561 615h1v1h-1zM562 615h1v1h-1zM563 615h1v1h-1zM564 614h1v2h-1zM565 616h1v1h-1zM566 617h1v1h-1zM567 618h1v1h-1zM568 616h1v4h-1zM569 612h1v4h-1zM570 608h1v4h-1zM571 604h1v4h-1zM572 603h1v1h-1zM573 603h1v1h-1zM574 603h1v1h-1zM575 603h1v1h-1zM576 603h1v1h-1zM577 603h1v1h-1zM578 603h1v1h-1zM579 603h1v1h-1zM580 603h1v1h-1zM581 602h1v1h-1zM582 602h1v1h-1zM583 601h1v1h-1zM584 600h1v1h-1zM585 600h1v1h-1zM586 599h1v1h-1zM587 599h1v1h-1zM588 599h1v1h-1zM589 600h1v1h-1zM590 601h1v1h-1zM591 602h1v1h-1zM592 602h1v1h-1zM593 602h1v1h-1zM594 602h1v1h-1zM595 602h1v1h-1zM596 603h1v1h-1zM597 604h1v1h-1zM598 605h1v2h-1zM599 607h1v1h-1zM600 607h1v1h-1zM601 607h1v1h-1zM602 607h1v1h-1zM603 607h1v1h-1zM604 607h1v1h-1zM605 607h1v1h-1zM606 608h1v1h-1zM607 608h1v1h-1zM608 608h1v1h-1zM609 607h1v1h-1zM610 607h1v1h-1zM611 607h1v1h-1zM612 606h1v1h-1zM613 606h1v1h-1zM614 606h1v1h-1zM615 606h1v1h-1zM616 606h1v1h-1zM617 605h1v1h-1zM618 605h1v1h-1zM619 604h1v1h-1zM620 604h1v1h-1zM621 603h1v1h-1zM622 603h1v1h-1zM623 603h1v1h-1zM624 602h1v1h-1zM625 603h1v1h-1zM626 604h1v1h-1zM627 604h1v1h-1zM628 605h1v1h-1zM629 606h1v1h-1zM630 607h1v1h-1zM631 608h1v1h-1zM632 609h1v1h-1zM633 608h1v1h-1zM634 607h1v1h-1zM635 606h1v1h-1zM636 605h1v1h-1zM637 605h1v1h-1zM638 606h1v1h-1zM639 606h1v1h-1zM640 607h1v1h-1zM641 605h1v2h-1zM642 604h1v1h-1zM643 603h1v1h-1zM644 602h1v1h-1zM645 603h1v1h-1zM646 604h1v1h-1zM647 605h1v1h-1zM648 606h1v1h-1zM649 606h1v1h-1zM650 606h1v1h-1zM651 607h1v1h-1zM652 607h1v1h-1zM653 607h1v1h-1zM654 608h1v1h-1zM655 608h1v1h-1zM656 608h1v1h-1zM657 609h1v1h-1zM658 610h1v1h-1zM659 611h1v2h-1zM660 613h1v1h-1zM661 613h1v1h-1zM662 614h1v1h-1zM663 614h1v1h-1zM664 614h1v1h-1zM665 615h1v1h-1zM666 615h1v1h-1zM667 615h1v1h-1zM668 614h1v2h-1zM669 613h1v1h-1zM670 611h1v2h-1zM671 609h1v2h-1zM672 608h1v1h-1zM673 609h1v1h-1zM674 610h1v1h-1zM675 610h1v1h-1zM676 611h1v1h-1zM677 610h1v1h-1zM678 609h1v1h-1zM679 608h1v1h-1zM680 607h1v1h-1zM681 607h1v1h-1zM682 607h1v1h-1zM683 608h1v1h-1zM684 608h1v2h-1zM685 610h1v2h-1zM686 612h1v2h-1zM687 614h1v2h-1zM688 616h1v1h-1zM689 615h1v1h-1zM690 614h1v1h-1zM691 613h1v1h-1zM692 613h1v1h-1zM693 612h1v1h-1zM694 611h1v1h-1zM695 611h1v1h-1zM696 610h1v1h-1zM697 611h1v1h-1zM698 611h1v1h-1zM699 612h1v1h-1zM700 613h1v1h-1zM701 612h1v1h-1zM702 612h1v1h-1zM703 611h1v1h-1zM704 609h1v2h-1zM705 607h1v2h-1zM706 605h1v2h-1zM707 603h1v2h-1zM708 602h1v1h-1zM709 602h1v2h-1zM710 604h1v2h-1zM711 606h1v2h-1zM712 608h1v2h-1zM713 610h1v3h-1zM714 613h1v3h-1zM715 616h1v2h-1zM716 618h1v1h-1zM717 619h1v1h-1zM718 618h1v1h-1zM719 618h1v1h-1zM720 617h1v1h-1zM721 617h1v1h-1zM722 617h1v1h-1zM723 617h1v1h-1zM724 617h1v1h-1zM725 617h1v1h-1zM726 617h1v1h-1zM727 617h1v1h-1zM728 617h1v1h-1zM729 617h1v1h-1zM730 617h1v1h-1zM731 617h1v1h-1zM732 617h1v1h-1zM733 617h1v1h-1zM734 617h1v1h-1zM735 617h1v1h-1zM736 618h1v1h-1zM737 618h1v1h-1zM738 618h1v1h-1zM739 619h1v1h-1zM740 618h1v2h-1zM741 617h1v1h-1zM742 615h1v2h-1zM743 614h1v1h-1zM744 613h1v1h-1zM745 613h1v1h-1zM746 613h1v1h-1zM747 613h1v1h-1zM748 613h1v1h-1zM749 612h1v1h-1zM750 612h1v1h-1zM751 612h1v1h-1zM752 611h1v1h-1zM753 611h1v1h-1zM754 611h1v1h-1zM755 611h1v1h-1zM756 611h1v1h-1zM757 612h1v1h-1zM758 612h1v1h-1zM759 613h1v1h-1zM760 614h1v1h-1zM761 614h1v1h-1zM762 614h1v1h-1zM763 614h1v1h-1zM764 614h1v1h-1zM765 614h1v1h-1zM766 614h1v1h-1zM767 614h1v1h-1zM768 614h1v1h-1zM769 615h1v1h-1zM770 615h1v1h-1zM771 615h1v1h-1zM772 615h1v1h-1zM773 615h1v1h-1zM774 615h1v1h-1zM775 615h1v1h-1zM776 615h1v1h-1zM777 613h1v2h-1zM778 611h1v2h-1zM779 609h1v2h-1zM780 608h1v1h-1zM781 609h1v1h-1zM782 610h1v1h-1zM783 611h1v1h-1zM784 612h1v1h-1zM785 611h1v1h-1zM786 610h1v1h-1zM787 609h1v1h-1zM788 608h1v1h-1zM789 608h1v1h-1zM790 607h1v1h-1zM791 607h1v1h-1zM792 606h1v1h-1zM793 606h1v1h-1zM794 607h1v1h-1zM795 607h1v1h-1zM796 608h1v1h-1zM797 609h1v1h-1zM798 610h1v2h-1zM799 612h1v2h-1zM800 614h1v1h-1zM801 615h1v1h-1zM802 616h1v1h-1zM803 617h1v1h-1zM804 618h1v1h-1zM805 618h1v1h-1zM806 618h1v1h-1zM807 618h1v1h-1zM808 618h1v1h-1zM809 618h1v1h-1zM810 617h1v1h-1zM811 617h1v1h-1zM812 616h1v1h-1zM813 616h1v1h-1zM814 617h1v1h-1zM815 618h1v1h-1zM816 619h1v1h-1zM817 620h1v1h-1zM818 620h1v1h-1zM819 621h1v1h-1zM820 621h1v1h-1zM821 621h1v1h-1zM822 621h1v1h-1zM823 620h1v1h-1zM824 620h1v1h-1zM825 620h1v1h-1zM826 621h1v1h-1zM827 622h1v1h-1zM828 623h1v1h-1zM829 623h1v1h-1zM830 624h1v1h-1zM831 624h1v1h-1zM832 625h1v1h-1zM833 625h1v1h-1zM834 625h1v1h-1zM835 625h1v1h-1zM836 625h1v1h-1zM837 626h1v1h-1zM838 626h1v1h-1zM839 627h1v1h-1zM840 628h1v1h-1zM841 628h1v1h-1zM842 628h1v1h-1zM843 628h1v1h-1zM844 628h1v1h-1zM845 627h1v1h-1zM846 625h1v2h-1zM847 623h1v2h-1zM848 622h1v1h-1zM849 621h1v1h-1zM850 620h1v1h-1zM851 619h1v1h-1zM852 619h1v1h-1zM853 618h1v1h-1zM854 618h1v1h-1zM855 618h1v1h-1zM856 618h1v1h-1zM857 619h1v1h-1zM858 620h1v1h-1zM859 620h1v1h-1zM860 621h1v1h-1zM861 622h1v1h-1zM862 623h1v1h-1zM863 624h1v1h-1zM864 625h1v1h-1zM865 625h1v1h-1zM866 624h1v1h-1zM867 624h1v1h-1zM868 623h1v1h-1zM869 623h1v1h-1zM870 623h1v1h-1zM871 623h1v1h-1zM872 623h1v1h-1zM873 624h1v1h-1zM874 624h1v1h-1zM875 625h1v1h-1zM876 626h1v1h-1zM877 626h1v1h-1zM878 627h1v1h-1zM879 628h1v1h-1zM880 627h1v2h-1zM881 624h1v3h-1zM882 621h1v3h-1zM883 618h1v3h-1zM884 616h1v2h-1zM885 615h1v1h-1zM886 613h1v2h-1zM887 612h1v1h-1zM888 611h1v1h-1zM889 610h1v1h-1zM890 610h1v1h-1zM891 610h1v1h-1zM892 610h1v1h-1zM893 609h1v1h-1zM894 608h1v1h-1zM895 608h1v1h-1zM896 607h1v1h-1zM897 606h1v1h-1zM898 606h1v1h-1zM899 606h1v1h-1zM900 606h1v3h-1zM901 609h1v2h-1zM902 611h1v3h-1zM903 614h1v2h-1zM904 616h1v1h-1zM905 616h1v1h-1zM906 615h1v1h-1zM907 615h1v1h-1zM908 614h1v1h-1zM909 615h1v1h-1zM910 615h1v1h-1zM911 615h1v1h-1zM912 615h1v1h-1zM913 615h1v1h-1zM914 615h1v1h-1zM915 615h1v1h-1zM916 614h1v1h-1zM917 615h1v1h-1zM918 615h1v1h-1zM919 616h1v1h-1zM920 616h1v1h-1zM921 616h1v1h-1zM922 616h1v1h-1zM923 617h1v1h-1zM924 617h1v1h-1z"/>
<rect x="3" y="23" width="1164" height="1" fill="#000"/>
<rect x="3" y="483" width="1164" height="1" fill="#000"/>
<rect x="3" y="23" width="1" height="461" fill="#000"/>
<rect x="1166" y="23" width="1" height="461" fill="#000"/>
<rect x="3" y="485" width="1164" height="1" fill="#000"/>
<rect x="3" y="569" width="1164" height="1" fill="#000"/>
<rect x="3" y="485" width="1" height="85" fill="#000"/>
<rect x="1166" y="485" width="1" height="85" fill="#000"/>
<rect x="3" y="571" width="1164" height="1" fill="#000"/>
<rect x="3" y="658" width="1164" height="1" fill="#000"/>
<rect x="3" y="571" width="1" height="88" fill="#000"/>
<rect x="1166" y="571" width="1" height="88" fill="#000"/>
<rect x="1167" y="51" width="2" height="1" fill="#000"/>
<rect x="1167" y="84" width="2" height="1" fill="#000"/>
<rect x="1167" y="117" width="2" height="1" fill="#000"/>
<rect x="1167" y="150" width="2" height="1" fill="#000"/>
<rect x="1167" y="183" width="2" height="1" fill="#000"/>
<rect x="1167" y="216" width="2" height="1" fill="#000"/>
<rect x="1167" y="249" width="2" height="1" fill="#000"/>
<rect x="1167" y="283" width="2" height="1" fill="#000"/>
<rect x="1167" y="316" width="2" height="1" fill="#000"/>
<rect x="1167" y="349" width="2" height="1" fill="#000"/>
<rect x="1167" y="382" width="2" height="1" fill="#000"/>
<rect x="1167" y="414" width="2" height="1" fill="#000"/>
<rect x="1167" y="447" width="2" height="1" fill="#000"/>
<rect x="1167" y="480" width="2" height="1" fill="#000"/>
<rect x="1167" y="487" width="2" height="1" fill="#000"/>
<rect x="1167" y="524" width="2" height="1" fill="#000"/>
<rect x="1167" y="568" width="2" height="1" fill="#000"/>
<rect x="1167" y="573" width="2" height="1" fill="#000"/>
<rect x="1167" y="657" width="2" height="1" fill="#000"/>
<rect x="4" y="199" width="3" height="1" fill="#000"/>
<rect x="4" y="659" width="1" height="3" fill="#000"/>
<rect x="68" y="659" width="1" height="3" fill="#000"/>
<rect x="132" y="659" width="1" height="3" fill="#000"/>
<rect x="196" y="659" width="1" height="3" fill="#000"/>
<rect x="260" y="659" width="1" height="3" fill="#000"/>
<rect x="324" y="659" width="1" height="3" fill="#000"/>
<rect x="388" y="659" width="1" height="3" fill="#000"/>
<rect x="452" y="659" width="1" height="3" fill="#000"/>
<rect x="516" y="659" width="1" height="3" fill="#000"/>
<rect x="580" y="659" width="1" height="3" fill="#000"/>
<rect x="644" y="659" width="1" height="3" fill="#000"/>
<rect x="708" y="659" width="1" height="3" fill="#000"/>
<rect x="772" y="659" width="1" height="3" fill="#000"/>
<rect x="836" y="659" width="1" height="3" fill="#000"/>
<rect x="900" y="659" width="1" height="3" fill="#000"/>
<polygon points="7,34 14,34 10.5,30" fill="#000" shape-rendering="auto"/>
</svg>
<div class="ax" style="left:1171.5px;top:45px;color:#000">6<i>.</i>58400</div>
<div class="ax" style="left:1171.5px;top:78px;color:#000">6<i>.</i>56550</div>
<div class="ax" style="left:1171.5px;top:111px;color:#000">6<i>.</i>54750</div>
<div class="ax" style="left:1171.5px;top:144px;color:#000">6<i>.</i>52900</div>
<div class="ax" style="left:1171.5px;top:177px;color:#000">6<i>.</i>51100</div>
<div class="ax" style="left:1171.5px;top:210px;color:#000">6<i>.</i>49250</div>
<div class="ax" style="left:1171.5px;top:243px;color:#000">6<i>.</i>47450</div>
<div class="ax" style="left:1171.5px;top:277px;color:#000">6<i>.</i>45600</div>
<div class="ax" style="left:1171.5px;top:310px;color:#000">6<i>.</i>43800</div>
<div class="ax" style="left:1171.5px;top:343px;color:#000">6<i>.</i>41950</div>
<div class="ax" style="left:1171.5px;top:376px;color:#000">6<i>.</i>40150</div>
<div class="ax" style="left:1171.5px;top:408px;color:#000">6<i>.</i>38350</div>
<div class="ax" style="left:1171.5px;top:441px;color:#000">6<i>.</i>36500</div>
<div class="ax" style="left:1171.5px;top:474px;color:#000">6<i>.</i>34700</div>
<div class="bx" style="top:43px;background:#ff0000;color:#fff">6<i>.</i>58514</div>
<div class="bx" style="top:168px;background:#ff0000;color:#fff">6<i>.</i>51605</div>
<div class="bx" style="top:274px;background:#000;color:#fff">6<i>.</i>45811</div>
<div class="bx" style="top:286px;background:#00ff00;color:#fff">6<i>.</i>45060</div>
<div class="bx" style="top:377px;background:#0000ff;color:#fff">6<i>.</i>40042</div>
<div class="bx" style="top:468px;background:#0000ff;color:#fff">6<i>.</i>35025</div>
<div class="ax" style="left:1170px;top:486px;color:#000">0<i>.</i>025108</div>
<div class="ax" style="left:1170px;top:518px;color:#000">0<i>.</i>00</div>
<div class="ax" style="left:1169.6px;top:556px;color:#000">-0<i>.</i>02988</div>
<div class="ax" style="left:1169.6px;top:573px;color:#000">100</div>
<div class="ax" style="left:1169px;top:592px;color:#000">70</div>
<div class="ax" style="left:1169px;top:626px;color:#000">30</div>
<div class="ax" style="left:1169.7px;top:645px;color:#000">0</div>
<div class="ax" style="left:3px;top:662px;color:#000;letter-spacing:-0.55px;word-spacing:0.6px">2 Jan 2021</div>
<div class="ax" style="left:67px;top:662px;color:#000;letter-spacing:-0.55px;word-spacing:0.6px">21 Jan 2021</div>
<div class="ax" style="left:131px;top:662px;color:#000;letter-spacing:-0.55px;word-spacing:0.6px">9 Feb 2021</div>
<div class="ax" style="left:195px;top:662px;color:#000;letter-spacing:-0.55px;word-spacing:0.6px">27 Feb 2021</div>
<div class="ax" style="left:259px;top:662px;color:#000;letter-spacing:-0.55px;word-spacing:0.6px">18 Mar 2021</div>
<div class="ax" style="left:323px;top:662px;color:#000;letter-spacing:-0.55px;word-spacing:0.6px">6 Apr 2021</div>
<div class="ax" style="left:387px;top:662px;color:#000;letter-spacing:-0.55px;word-spacing:0.6px">24 Apr 2021</div>
<div class="ax" style="left:451px;top:662px;color:#000;letter-spacing:-0.55px;word-spacing:0.6px">13 May 2021</div>
<div class="ax" style="left:515px;top:662px;color:#000;letter-spacing:-0.55px;word-spacing:0.6px">1 Jun 2021</div>
<div class="ax" style="left:579px;top:662px;color:#000;letter-spacing:-0.55px;word-spacing:0.6px">19 Jun 2021</div>
<div class="ax" style="left:643px;top:662px;color:#000;letter-spacing:-0.55px;word-spacing:0.6px">8 Jul 2021</div>
<div class="ax" style="left:707px;top:662px;color:#000;letter-spacing:-0.55px;word-spacing:0.6px">27 Jul 2021</div>
<div class="ax" style="left:771px;top:662px;color:#000;letter-spacing:-0.55px;word-spacing:0.6px">14 Aug 2021</div>
<div class="ax" style="left:835px;top:662px;color:#000;letter-spacing:-0.55px;word-spacing:0.6px">2 Sep 2021</div>
<div class="ax" style="left:899px;top:662px;color:#000;letter-spacing:-0.55px;word-spacing:0.6px">21 Sep 2021</div>
<div class="ax" style="left:8px;top:488px;color:#000;letter-spacing:-0.35px">MACD(12,26,9) 0.000268 -0.000272</div>
<div class="ax" style="left:8px;top:574px;color:#000;letter-spacing:-0.38px">RSI(14) 49.1672</div>
<div class="ax" style="left:19px;top:26px;color:#000;word-spacing:1.4px"><span style="letter-spacing:-0.15px">USDCNH,Daily</span><span style="display:inline-block;width:6.5px"></span>6.45782 6.46032 6.45520 6.45811</div>
<svg id="tp" width="240" height="110" viewBox="0 0 240 110">
<defs><linearGradient id="rg" x1="0" y1="0" x2="0" y2="1"><stop offset="0" stop-color="#f84d4d"/><stop offset="0.45" stop-color="#d82a2a"/><stop offset="1" stop-color="#b00000"/></linearGradient>
<linearGradient id="gg" x1="0" y1="0" x2="0" y2="1"><stop offset="0" stop-color="#f4f4f4"/><stop offset="0.5" stop-color="#e0e0e0"/><stop offset="0.5" stop-color="#d2d2d2"/><stop offset="1" stop-color="#cfcfcf"/></linearGradient></defs>
<rect x="6" y="43" width="222" height="57" fill="#fff"/>
<polygon points="7.5,43.5 58.5,43.5 58.5,67.5 115.5,67.5 115.5,99.5 7.5,99.5" fill="url(#rg)" stroke="#c01818" stroke-width="1"/>
<polygon points="174.5,43.5 225.5,43.5 225.5,99.5 118.5,99.5 118.5,67.5 174.5,67.5" fill="url(#rg)" stroke="#c01818" stroke-width="1"/>
<rect x="11" y="67" width="44" height="1" fill="#8a0000"/><rect x="11" y="68" width="44" height="1" fill="#e46060"/>
<rect x="178" y="67" width="44" height="1" fill="#8a0000"/><rect x="178" y="68" width="44" height="1" fill="#e46060"/>
<rect x="61.5" y="43.5" width="110" height="21" fill="#fff" stroke="#a3a9b5"/>
<rect x="63" y="45" width="19" height="18" fill="url(#gg)"/><rect x="151" y="45" width="19" height="18" fill="url(#gg)"/>
<rect x="83" y="44" width="1" height="20" fill="#a3a9b5"/><rect x="150" y="44" width="1" height="20" fill="#a3a9b5"/>
<polygon points="69,52 75,52 72,55.5" fill="#4a5fc0"/><polygon points="158,55.5 164,55.5 161,52" fill="#4a5fc0"/>
</svg>
<div class="t" style="left:19px;top:46px;font-size:11px;line-height:16px;letter-spacing:-0.4px">SELL</div>
<div class="t" style="left:188px;top:46px;font-size:11px;line-height:16px;letter-spacing:-0.3px">BUY</div>
<div class="t" style="left:123px;top:46px;font-size:12px;line-height:16px;color:#000">3.00</div>
<div class="t" style="left:27px;top:82px;font-size:12px;line-height:16px;font-weight:bold">6.45</div>
<div class="t" id="b1" style="left:54px;top:63px;font-size:35px;line-height:40px;transform:scaleX(0.9);transform-origin:0 0">81</div>
<div class="t" style="left:94px;top:66px;font-size:11px;line-height:16px;font-weight:bold">4</div>
<div class="t" style="left:137px;top:82px;font-size:12px;line-height:16px;font-weight:bold">6.46</div>
<div class="t" id="b2" style="left:165px;top:63px;font-size:35px;line-height:40px;transform:scaleX(0.9);transform-origin:0 0">08</div>
<div class="t" style="left:205px;top:66px;font-size:11px;line-height:16px;font-weight:bold">8</div>
<div id="tabs"><div class="l0"></div><div class="lb"></div><div class="l1"></div><div class="w"></div><div class="g"></div>
<div class="tb" style="left:17px">EURUSD,H4</div><div class="tb" style="left:108px">AUDUSD,Daily</div><div class="tb" style="left:211px">USDCHF,H4</div><div class="tb" style="left:300px">USDCAD,Daily</div><div class="tb" style="left:509px">UKOil,Daily</div><div class="tb" style="left:595px">DJ30,H1</div><div class="tb" style="left:664px">USDX,H1</div><div class="tb" style="left:739px">XAUUSD,H4</div><div class="tb" style="left:833px">GBPUSD,H1</div><div class="sp" style="left:97px"></div><div class="sp" style="left:201px"></div><div class="sp" style="left:290px"></div><div class="sp" style="left:585px"></div><div class="sp" style="left:653px"></div><div class="sp" style="left:728px"></div><div class="sp" style="left:821px"></div><div class="sp" style="left:912px"></div>
<div id="act">USDCNH,Daily</div>
<div class="arr" style="left:1181.5px;border-right:3.5px solid #8c8c8c"></div><div class="arr" style="left:1201px;border-left:3.5px solid #8c8c8c"></div>
</div>
</body></html>
